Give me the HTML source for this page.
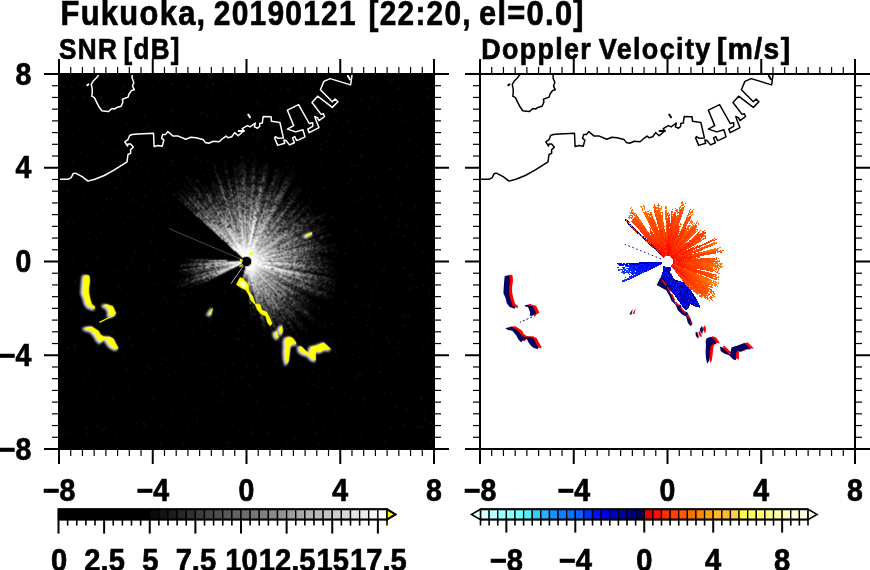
<!DOCTYPE html><html><head><meta charset="utf-8"><style>html,body{margin:0;padding:0;background:#fff;width:870px;height:570px;overflow:hidden;position:relative}svg{display:block}text{font-family:"Liberation Sans",sans-serif;font-weight:bold;stroke:#000;stroke-width:0.7px}</style></head><body>
<svg width="870" height="570" viewBox="0 0 870 570" style="position:absolute;left:0;top:0">
<rect x="59" y="74" width="375" height="375" fill="#000"/>
<defs><radialGradient id="a25" gradientUnits="userSpaceOnUse" cx="246.5" cy="261.5" r="25"><stop offset="0" stop-color="#fff" stop-opacity="1"/><stop offset="0.1" stop-color="#fff" stop-opacity="0.85"/><stop offset="0.3" stop-color="#fff" stop-opacity="0.5"/><stop offset="0.5" stop-color="#fff" stop-opacity="0.2"/><stop offset="0.7" stop-color="#fff" stop-opacity="0.05"/><stop offset="1" stop-color="#fff" stop-opacity="0"/></radialGradient><radialGradient id="b25" gradientUnits="userSpaceOnUse" cx="246.5" cy="261.5" r="25"><stop offset="0" stop-color="#fff" stop-opacity="1"/><stop offset="0.15" stop-color="#fff" stop-opacity="0.85"/><stop offset="0.4" stop-color="#fff" stop-opacity="0.55"/><stop offset="0.65" stop-color="#fff" stop-opacity="0.3"/><stop offset="0.85" stop-color="#fff" stop-opacity="0.12"/><stop offset="1" stop-color="#fff" stop-opacity="0"/></radialGradient><radialGradient id="a30" gradientUnits="userSpaceOnUse" cx="246.5" cy="261.5" r="30"><stop offset="0" stop-color="#fff" stop-opacity="1"/><stop offset="0.1" stop-color="#fff" stop-opacity="0.85"/><stop offset="0.3" stop-color="#fff" stop-opacity="0.5"/><stop offset="0.5" stop-color="#fff" stop-opacity="0.2"/><stop offset="0.7" stop-color="#fff" stop-opacity="0.05"/><stop offset="1" stop-color="#fff" stop-opacity="0"/></radialGradient><radialGradient id="b30" gradientUnits="userSpaceOnUse" cx="246.5" cy="261.5" r="30"><stop offset="0" stop-color="#fff" stop-opacity="1"/><stop offset="0.15" stop-color="#fff" stop-opacity="0.85"/><stop offset="0.4" stop-color="#fff" stop-opacity="0.55"/><stop offset="0.65" stop-color="#fff" stop-opacity="0.3"/><stop offset="0.85" stop-color="#fff" stop-opacity="0.12"/><stop offset="1" stop-color="#fff" stop-opacity="0"/></radialGradient><radialGradient id="a35" gradientUnits="userSpaceOnUse" cx="246.5" cy="261.5" r="35"><stop offset="0" stop-color="#fff" stop-opacity="1"/><stop offset="0.1" stop-color="#fff" stop-opacity="0.85"/><stop offset="0.3" stop-color="#fff" stop-opacity="0.5"/><stop offset="0.5" stop-color="#fff" stop-opacity="0.2"/><stop offset="0.7" stop-color="#fff" stop-opacity="0.05"/><stop offset="1" stop-color="#fff" stop-opacity="0"/></radialGradient><radialGradient id="b35" gradientUnits="userSpaceOnUse" cx="246.5" cy="261.5" r="35"><stop offset="0" stop-color="#fff" stop-opacity="1"/><stop offset="0.15" stop-color="#fff" stop-opacity="0.85"/><stop offset="0.4" stop-color="#fff" stop-opacity="0.55"/><stop offset="0.65" stop-color="#fff" stop-opacity="0.3"/><stop offset="0.85" stop-color="#fff" stop-opacity="0.12"/><stop offset="1" stop-color="#fff" stop-opacity="0"/></radialGradient><radialGradient id="a40" gradientUnits="userSpaceOnUse" cx="246.5" cy="261.5" r="40"><stop offset="0" stop-color="#fff" stop-opacity="1"/><stop offset="0.1" stop-color="#fff" stop-opacity="0.85"/><stop offset="0.3" stop-color="#fff" stop-opacity="0.5"/><stop offset="0.5" stop-color="#fff" stop-opacity="0.2"/><stop offset="0.7" stop-color="#fff" stop-opacity="0.05"/><stop offset="1" stop-color="#fff" stop-opacity="0"/></radialGradient><radialGradient id="b40" gradientUnits="userSpaceOnUse" cx="246.5" cy="261.5" r="40"><stop offset="0" stop-color="#fff" stop-opacity="1"/><stop offset="0.15" stop-color="#fff" stop-opacity="0.85"/><stop offset="0.4" stop-color="#fff" stop-opacity="0.55"/><stop offset="0.65" stop-color="#fff" stop-opacity="0.3"/><stop offset="0.85" stop-color="#fff" stop-opacity="0.12"/><stop offset="1" stop-color="#fff" stop-opacity="0"/></radialGradient><radialGradient id="a45" gradientUnits="userSpaceOnUse" cx="246.5" cy="261.5" r="45"><stop offset="0" stop-color="#fff" stop-opacity="1"/><stop offset="0.1" stop-color="#fff" stop-opacity="0.85"/><stop offset="0.3" stop-color="#fff" stop-opacity="0.5"/><stop offset="0.5" stop-color="#fff" stop-opacity="0.2"/><stop offset="0.7" stop-color="#fff" stop-opacity="0.05"/><stop offset="1" stop-color="#fff" stop-opacity="0"/></radialGradient><radialGradient id="b45" gradientUnits="userSpaceOnUse" cx="246.5" cy="261.5" r="45"><stop offset="0" stop-color="#fff" stop-opacity="1"/><stop offset="0.15" stop-color="#fff" stop-opacity="0.85"/><stop offset="0.4" stop-color="#fff" stop-opacity="0.55"/><stop offset="0.65" stop-color="#fff" stop-opacity="0.3"/><stop offset="0.85" stop-color="#fff" stop-opacity="0.12"/><stop offset="1" stop-color="#fff" stop-opacity="0"/></radialGradient><radialGradient id="a50" gradientUnits="userSpaceOnUse" cx="246.5" cy="261.5" r="50"><stop offset="0" stop-color="#fff" stop-opacity="1"/><stop offset="0.1" stop-color="#fff" stop-opacity="0.85"/><stop offset="0.3" stop-color="#fff" stop-opacity="0.5"/><stop offset="0.5" stop-color="#fff" stop-opacity="0.2"/><stop offset="0.7" stop-color="#fff" stop-opacity="0.05"/><stop offset="1" stop-color="#fff" stop-opacity="0"/></radialGradient><radialGradient id="b50" gradientUnits="userSpaceOnUse" cx="246.5" cy="261.5" r="50"><stop offset="0" stop-color="#fff" stop-opacity="1"/><stop offset="0.15" stop-color="#fff" stop-opacity="0.85"/><stop offset="0.4" stop-color="#fff" stop-opacity="0.55"/><stop offset="0.65" stop-color="#fff" stop-opacity="0.3"/><stop offset="0.85" stop-color="#fff" stop-opacity="0.12"/><stop offset="1" stop-color="#fff" stop-opacity="0"/></radialGradient><radialGradient id="a55" gradientUnits="userSpaceOnUse" cx="246.5" cy="261.5" r="55"><stop offset="0" stop-color="#fff" stop-opacity="1"/><stop offset="0.1" stop-color="#fff" stop-opacity="0.85"/><stop offset="0.3" stop-color="#fff" stop-opacity="0.5"/><stop offset="0.5" stop-color="#fff" stop-opacity="0.2"/><stop offset="0.7" stop-color="#fff" stop-opacity="0.05"/><stop offset="1" stop-color="#fff" stop-opacity="0"/></radialGradient><radialGradient id="b55" gradientUnits="userSpaceOnUse" cx="246.5" cy="261.5" r="55"><stop offset="0" stop-color="#fff" stop-opacity="1"/><stop offset="0.15" stop-color="#fff" stop-opacity="0.85"/><stop offset="0.4" stop-color="#fff" stop-opacity="0.55"/><stop offset="0.65" stop-color="#fff" stop-opacity="0.3"/><stop offset="0.85" stop-color="#fff" stop-opacity="0.12"/><stop offset="1" stop-color="#fff" stop-opacity="0"/></radialGradient><radialGradient id="a60" gradientUnits="userSpaceOnUse" cx="246.5" cy="261.5" r="60"><stop offset="0" stop-color="#fff" stop-opacity="1"/><stop offset="0.1" stop-color="#fff" stop-opacity="0.85"/><stop offset="0.3" stop-color="#fff" stop-opacity="0.5"/><stop offset="0.5" stop-color="#fff" stop-opacity="0.2"/><stop offset="0.7" stop-color="#fff" stop-opacity="0.05"/><stop offset="1" stop-color="#fff" stop-opacity="0"/></radialGradient><radialGradient id="b60" gradientUnits="userSpaceOnUse" cx="246.5" cy="261.5" r="60"><stop offset="0" stop-color="#fff" stop-opacity="1"/><stop offset="0.15" stop-color="#fff" stop-opacity="0.85"/><stop offset="0.4" stop-color="#fff" stop-opacity="0.55"/><stop offset="0.65" stop-color="#fff" stop-opacity="0.3"/><stop offset="0.85" stop-color="#fff" stop-opacity="0.12"/><stop offset="1" stop-color="#fff" stop-opacity="0"/></radialGradient><radialGradient id="a65" gradientUnits="userSpaceOnUse" cx="246.5" cy="261.5" r="65"><stop offset="0" stop-color="#fff" stop-opacity="1"/><stop offset="0.1" stop-color="#fff" stop-opacity="0.85"/><stop offset="0.3" stop-color="#fff" stop-opacity="0.5"/><stop offset="0.5" stop-color="#fff" stop-opacity="0.2"/><stop offset="0.7" stop-color="#fff" stop-opacity="0.05"/><stop offset="1" stop-color="#fff" stop-opacity="0"/></radialGradient><radialGradient id="b65" gradientUnits="userSpaceOnUse" cx="246.5" cy="261.5" r="65"><stop offset="0" stop-color="#fff" stop-opacity="1"/><stop offset="0.15" stop-color="#fff" stop-opacity="0.85"/><stop offset="0.4" stop-color="#fff" stop-opacity="0.55"/><stop offset="0.65" stop-color="#fff" stop-opacity="0.3"/><stop offset="0.85" stop-color="#fff" stop-opacity="0.12"/><stop offset="1" stop-color="#fff" stop-opacity="0"/></radialGradient><radialGradient id="a70" gradientUnits="userSpaceOnUse" cx="246.5" cy="261.5" r="70"><stop offset="0" stop-color="#fff" stop-opacity="1"/><stop offset="0.1" stop-color="#fff" stop-opacity="0.85"/><stop offset="0.3" stop-color="#fff" stop-opacity="0.5"/><stop offset="0.5" stop-color="#fff" stop-opacity="0.2"/><stop offset="0.7" stop-color="#fff" stop-opacity="0.05"/><stop offset="1" stop-color="#fff" stop-opacity="0"/></radialGradient><radialGradient id="b70" gradientUnits="userSpaceOnUse" cx="246.5" cy="261.5" r="70"><stop offset="0" stop-color="#fff" stop-opacity="1"/><stop offset="0.15" stop-color="#fff" stop-opacity="0.85"/><stop offset="0.4" stop-color="#fff" stop-opacity="0.55"/><stop offset="0.65" stop-color="#fff" stop-opacity="0.3"/><stop offset="0.85" stop-color="#fff" stop-opacity="0.12"/><stop offset="1" stop-color="#fff" stop-opacity="0"/></radialGradient><radialGradient id="a75" gradientUnits="userSpaceOnUse" cx="246.5" cy="261.5" r="75"><stop offset="0" stop-color="#fff" stop-opacity="1"/><stop offset="0.1" stop-color="#fff" stop-opacity="0.85"/><stop offset="0.3" stop-color="#fff" stop-opacity="0.5"/><stop offset="0.5" stop-color="#fff" stop-opacity="0.2"/><stop offset="0.7" stop-color="#fff" stop-opacity="0.05"/><stop offset="1" stop-color="#fff" stop-opacity="0"/></radialGradient><radialGradient id="b75" gradientUnits="userSpaceOnUse" cx="246.5" cy="261.5" r="75"><stop offset="0" stop-color="#fff" stop-opacity="1"/><stop offset="0.15" stop-color="#fff" stop-opacity="0.85"/><stop offset="0.4" stop-color="#fff" stop-opacity="0.55"/><stop offset="0.65" stop-color="#fff" stop-opacity="0.3"/><stop offset="0.85" stop-color="#fff" stop-opacity="0.12"/><stop offset="1" stop-color="#fff" stop-opacity="0"/></radialGradient><radialGradient id="a80" gradientUnits="userSpaceOnUse" cx="246.5" cy="261.5" r="80"><stop offset="0" stop-color="#fff" stop-opacity="1"/><stop offset="0.1" stop-color="#fff" stop-opacity="0.85"/><stop offset="0.3" stop-color="#fff" stop-opacity="0.5"/><stop offset="0.5" stop-color="#fff" stop-opacity="0.2"/><stop offset="0.7" stop-color="#fff" stop-opacity="0.05"/><stop offset="1" stop-color="#fff" stop-opacity="0"/></radialGradient><radialGradient id="b80" gradientUnits="userSpaceOnUse" cx="246.5" cy="261.5" r="80"><stop offset="0" stop-color="#fff" stop-opacity="1"/><stop offset="0.15" stop-color="#fff" stop-opacity="0.85"/><stop offset="0.4" stop-color="#fff" stop-opacity="0.55"/><stop offset="0.65" stop-color="#fff" stop-opacity="0.3"/><stop offset="0.85" stop-color="#fff" stop-opacity="0.12"/><stop offset="1" stop-color="#fff" stop-opacity="0"/></radialGradient><radialGradient id="a85" gradientUnits="userSpaceOnUse" cx="246.5" cy="261.5" r="85"><stop offset="0" stop-color="#fff" stop-opacity="1"/><stop offset="0.1" stop-color="#fff" stop-opacity="0.85"/><stop offset="0.3" stop-color="#fff" stop-opacity="0.5"/><stop offset="0.5" stop-color="#fff" stop-opacity="0.2"/><stop offset="0.7" stop-color="#fff" stop-opacity="0.05"/><stop offset="1" stop-color="#fff" stop-opacity="0"/></radialGradient><radialGradient id="b85" gradientUnits="userSpaceOnUse" cx="246.5" cy="261.5" r="85"><stop offset="0" stop-color="#fff" stop-opacity="1"/><stop offset="0.15" stop-color="#fff" stop-opacity="0.85"/><stop offset="0.4" stop-color="#fff" stop-opacity="0.55"/><stop offset="0.65" stop-color="#fff" stop-opacity="0.3"/><stop offset="0.85" stop-color="#fff" stop-opacity="0.12"/><stop offset="1" stop-color="#fff" stop-opacity="0"/></radialGradient><radialGradient id="a90" gradientUnits="userSpaceOnUse" cx="246.5" cy="261.5" r="90"><stop offset="0" stop-color="#fff" stop-opacity="1"/><stop offset="0.1" stop-color="#fff" stop-opacity="0.85"/><stop offset="0.3" stop-color="#fff" stop-opacity="0.5"/><stop offset="0.5" stop-color="#fff" stop-opacity="0.2"/><stop offset="0.7" stop-color="#fff" stop-opacity="0.05"/><stop offset="1" stop-color="#fff" stop-opacity="0"/></radialGradient><radialGradient id="b90" gradientUnits="userSpaceOnUse" cx="246.5" cy="261.5" r="90"><stop offset="0" stop-color="#fff" stop-opacity="1"/><stop offset="0.15" stop-color="#fff" stop-opacity="0.85"/><stop offset="0.4" stop-color="#fff" stop-opacity="0.55"/><stop offset="0.65" stop-color="#fff" stop-opacity="0.3"/><stop offset="0.85" stop-color="#fff" stop-opacity="0.12"/><stop offset="1" stop-color="#fff" stop-opacity="0"/></radialGradient><radialGradient id="a95" gradientUnits="userSpaceOnUse" cx="246.5" cy="261.5" r="95"><stop offset="0" stop-color="#fff" stop-opacity="1"/><stop offset="0.1" stop-color="#fff" stop-opacity="0.85"/><stop offset="0.3" stop-color="#fff" stop-opacity="0.5"/><stop offset="0.5" stop-color="#fff" stop-opacity="0.2"/><stop offset="0.7" stop-color="#fff" stop-opacity="0.05"/><stop offset="1" stop-color="#fff" stop-opacity="0"/></radialGradient><radialGradient id="b95" gradientUnits="userSpaceOnUse" cx="246.5" cy="261.5" r="95"><stop offset="0" stop-color="#fff" stop-opacity="1"/><stop offset="0.15" stop-color="#fff" stop-opacity="0.85"/><stop offset="0.4" stop-color="#fff" stop-opacity="0.55"/><stop offset="0.65" stop-color="#fff" stop-opacity="0.3"/><stop offset="0.85" stop-color="#fff" stop-opacity="0.12"/><stop offset="1" stop-color="#fff" stop-opacity="0"/></radialGradient><radialGradient id="a100" gradientUnits="userSpaceOnUse" cx="246.5" cy="261.5" r="100"><stop offset="0" stop-color="#fff" stop-opacity="1"/><stop offset="0.1" stop-color="#fff" stop-opacity="0.85"/><stop offset="0.3" stop-color="#fff" stop-opacity="0.5"/><stop offset="0.5" stop-color="#fff" stop-opacity="0.2"/><stop offset="0.7" stop-color="#fff" stop-opacity="0.05"/><stop offset="1" stop-color="#fff" stop-opacity="0"/></radialGradient><radialGradient id="b100" gradientUnits="userSpaceOnUse" cx="246.5" cy="261.5" r="100"><stop offset="0" stop-color="#fff" stop-opacity="1"/><stop offset="0.15" stop-color="#fff" stop-opacity="0.85"/><stop offset="0.4" stop-color="#fff" stop-opacity="0.55"/><stop offset="0.65" stop-color="#fff" stop-opacity="0.3"/><stop offset="0.85" stop-color="#fff" stop-opacity="0.12"/><stop offset="1" stop-color="#fff" stop-opacity="0"/></radialGradient><radialGradient id="a105" gradientUnits="userSpaceOnUse" cx="246.5" cy="261.5" r="105"><stop offset="0" stop-color="#fff" stop-opacity="1"/><stop offset="0.1" stop-color="#fff" stop-opacity="0.85"/><stop offset="0.3" stop-color="#fff" stop-opacity="0.5"/><stop offset="0.5" stop-color="#fff" stop-opacity="0.2"/><stop offset="0.7" stop-color="#fff" stop-opacity="0.05"/><stop offset="1" stop-color="#fff" stop-opacity="0"/></radialGradient><radialGradient id="b105" gradientUnits="userSpaceOnUse" cx="246.5" cy="261.5" r="105"><stop offset="0" stop-color="#fff" stop-opacity="1"/><stop offset="0.15" stop-color="#fff" stop-opacity="0.85"/><stop offset="0.4" stop-color="#fff" stop-opacity="0.55"/><stop offset="0.65" stop-color="#fff" stop-opacity="0.3"/><stop offset="0.85" stop-color="#fff" stop-opacity="0.12"/><stop offset="1" stop-color="#fff" stop-opacity="0"/></radialGradient><radialGradient id="a110" gradientUnits="userSpaceOnUse" cx="246.5" cy="261.5" r="110"><stop offset="0" stop-color="#fff" stop-opacity="1"/><stop offset="0.1" stop-color="#fff" stop-opacity="0.85"/><stop offset="0.3" stop-color="#fff" stop-opacity="0.5"/><stop offset="0.5" stop-color="#fff" stop-opacity="0.2"/><stop offset="0.7" stop-color="#fff" stop-opacity="0.05"/><stop offset="1" stop-color="#fff" stop-opacity="0"/></radialGradient><radialGradient id="b110" gradientUnits="userSpaceOnUse" cx="246.5" cy="261.5" r="110"><stop offset="0" stop-color="#fff" stop-opacity="1"/><stop offset="0.15" stop-color="#fff" stop-opacity="0.85"/><stop offset="0.4" stop-color="#fff" stop-opacity="0.55"/><stop offset="0.65" stop-color="#fff" stop-opacity="0.3"/><stop offset="0.85" stop-color="#fff" stop-opacity="0.12"/><stop offset="1" stop-color="#fff" stop-opacity="0"/></radialGradient><radialGradient id="a115" gradientUnits="userSpaceOnUse" cx="246.5" cy="261.5" r="115"><stop offset="0" stop-color="#fff" stop-opacity="1"/><stop offset="0.1" stop-color="#fff" stop-opacity="0.85"/><stop offset="0.3" stop-color="#fff" stop-opacity="0.5"/><stop offset="0.5" stop-color="#fff" stop-opacity="0.2"/><stop offset="0.7" stop-color="#fff" stop-opacity="0.05"/><stop offset="1" stop-color="#fff" stop-opacity="0"/></radialGradient><radialGradient id="b115" gradientUnits="userSpaceOnUse" cx="246.5" cy="261.5" r="115"><stop offset="0" stop-color="#fff" stop-opacity="1"/><stop offset="0.15" stop-color="#fff" stop-opacity="0.85"/><stop offset="0.4" stop-color="#fff" stop-opacity="0.55"/><stop offset="0.65" stop-color="#fff" stop-opacity="0.3"/><stop offset="0.85" stop-color="#fff" stop-opacity="0.12"/><stop offset="1" stop-color="#fff" stop-opacity="0"/></radialGradient><radialGradient id="a120" gradientUnits="userSpaceOnUse" cx="246.5" cy="261.5" r="120"><stop offset="0" stop-color="#fff" stop-opacity="1"/><stop offset="0.1" stop-color="#fff" stop-opacity="0.85"/><stop offset="0.3" stop-color="#fff" stop-opacity="0.5"/><stop offset="0.5" stop-color="#fff" stop-opacity="0.2"/><stop offset="0.7" stop-color="#fff" stop-opacity="0.05"/><stop offset="1" stop-color="#fff" stop-opacity="0"/></radialGradient><radialGradient id="b120" gradientUnits="userSpaceOnUse" cx="246.5" cy="261.5" r="120"><stop offset="0" stop-color="#fff" stop-opacity="1"/><stop offset="0.15" stop-color="#fff" stop-opacity="0.85"/><stop offset="0.4" stop-color="#fff" stop-opacity="0.55"/><stop offset="0.65" stop-color="#fff" stop-opacity="0.3"/><stop offset="0.85" stop-color="#fff" stop-opacity="0.12"/><stop offset="1" stop-color="#fff" stop-opacity="0"/></radialGradient><radialGradient id="a125" gradientUnits="userSpaceOnUse" cx="246.5" cy="261.5" r="125"><stop offset="0" stop-color="#fff" stop-opacity="1"/><stop offset="0.1" stop-color="#fff" stop-opacity="0.85"/><stop offset="0.3" stop-color="#fff" stop-opacity="0.5"/><stop offset="0.5" stop-color="#fff" stop-opacity="0.2"/><stop offset="0.7" stop-color="#fff" stop-opacity="0.05"/><stop offset="1" stop-color="#fff" stop-opacity="0"/></radialGradient><radialGradient id="b125" gradientUnits="userSpaceOnUse" cx="246.5" cy="261.5" r="125"><stop offset="0" stop-color="#fff" stop-opacity="1"/><stop offset="0.15" stop-color="#fff" stop-opacity="0.85"/><stop offset="0.4" stop-color="#fff" stop-opacity="0.55"/><stop offset="0.65" stop-color="#fff" stop-opacity="0.3"/><stop offset="0.85" stop-color="#fff" stop-opacity="0.12"/><stop offset="1" stop-color="#fff" stop-opacity="0"/></radialGradient><radialGradient id="a130" gradientUnits="userSpaceOnUse" cx="246.5" cy="261.5" r="130"><stop offset="0" stop-color="#fff" stop-opacity="1"/><stop offset="0.1" stop-color="#fff" stop-opacity="0.85"/><stop offset="0.3" stop-color="#fff" stop-opacity="0.5"/><stop offset="0.5" stop-color="#fff" stop-opacity="0.2"/><stop offset="0.7" stop-color="#fff" stop-opacity="0.05"/><stop offset="1" stop-color="#fff" stop-opacity="0"/></radialGradient><radialGradient id="b130" gradientUnits="userSpaceOnUse" cx="246.5" cy="261.5" r="130"><stop offset="0" stop-color="#fff" stop-opacity="1"/><stop offset="0.15" stop-color="#fff" stop-opacity="0.85"/><stop offset="0.4" stop-color="#fff" stop-opacity="0.55"/><stop offset="0.65" stop-color="#fff" stop-opacity="0.3"/><stop offset="0.85" stop-color="#fff" stop-opacity="0.12"/><stop offset="1" stop-color="#fff" stop-opacity="0"/></radialGradient><radialGradient id="a135" gradientUnits="userSpaceOnUse" cx="246.5" cy="261.5" r="135"><stop offset="0" stop-color="#fff" stop-opacity="1"/><stop offset="0.1" stop-color="#fff" stop-opacity="0.85"/><stop offset="0.3" stop-color="#fff" stop-opacity="0.5"/><stop offset="0.5" stop-color="#fff" stop-opacity="0.2"/><stop offset="0.7" stop-color="#fff" stop-opacity="0.05"/><stop offset="1" stop-color="#fff" stop-opacity="0"/></radialGradient><radialGradient id="b135" gradientUnits="userSpaceOnUse" cx="246.5" cy="261.5" r="135"><stop offset="0" stop-color="#fff" stop-opacity="1"/><stop offset="0.15" stop-color="#fff" stop-opacity="0.85"/><stop offset="0.4" stop-color="#fff" stop-opacity="0.55"/><stop offset="0.65" stop-color="#fff" stop-opacity="0.3"/><stop offset="0.85" stop-color="#fff" stop-opacity="0.12"/><stop offset="1" stop-color="#fff" stop-opacity="0"/></radialGradient><radialGradient id="a140" gradientUnits="userSpaceOnUse" cx="246.5" cy="261.5" r="140"><stop offset="0" stop-color="#fff" stop-opacity="1"/><stop offset="0.1" stop-color="#fff" stop-opacity="0.85"/><stop offset="0.3" stop-color="#fff" stop-opacity="0.5"/><stop offset="0.5" stop-color="#fff" stop-opacity="0.2"/><stop offset="0.7" stop-color="#fff" stop-opacity="0.05"/><stop offset="1" stop-color="#fff" stop-opacity="0"/></radialGradient><radialGradient id="b140" gradientUnits="userSpaceOnUse" cx="246.5" cy="261.5" r="140"><stop offset="0" stop-color="#fff" stop-opacity="1"/><stop offset="0.15" stop-color="#fff" stop-opacity="0.85"/><stop offset="0.4" stop-color="#fff" stop-opacity="0.55"/><stop offset="0.65" stop-color="#fff" stop-opacity="0.3"/><stop offset="0.85" stop-color="#fff" stop-opacity="0.12"/><stop offset="1" stop-color="#fff" stop-opacity="0"/></radialGradient><radialGradient id="haze" gradientUnits="userSpaceOnUse" cx="246.5" cy="261.5" r="115"><stop offset="0" stop-color="#fff" stop-opacity="0.18"/><stop offset="0.5" stop-color="#fff" stop-opacity="0.1"/><stop offset="1" stop-color="#fff" stop-opacity="0"/></radialGradient><filter id="grain" x="59" y="74" width="375" height="375" filterUnits="userSpaceOnUse" color-interpolation-filters="sRGB"><feTurbulence type="fractalNoise" baseFrequency="0.28" numOctaves="2" seed="5" result="n"/><feColorMatrix in="n" type="matrix" values="0 0 0 0 1  0 0 0 0 1  0 0 0 0 1  1.8 0 0 0 -0.1" result="m"/><feComposite in="SourceGraphic" in2="m" operator="in"/></filter></defs><g filter="url(#grain)"><path d="M246.5 261.5L285.8 369.6L293.3 366.6L300.5 363.0L307.4 359.0L314.1 354.5L320.4 349.6L326.4 344.2L332.0 338.5L337.1 332.3L341.8 325.8L346.1 319.0L349.9 311.9L353.1 304.6L355.9 297.0L358.1 289.3L359.8 281.5L360.9 273.5L361.4 265.5L361.4 257.5L360.9 249.5L359.8 241.5L358.1 233.7L355.9 226.0L353.1 218.4L349.9 211.1L346.1 204.0L341.8 197.2L337.1 190.7L332.0 184.5L326.4 178.8L320.4 173.4L314.1 168.5L307.4 164.0L300.5 160.0L293.3 156.4L285.8 153.4L278.2 151.0L270.4 149.0L262.5 147.6L254.5 146.8L246.5 146.5L238.5 146.8L230.5 147.6L222.6 149.0L214.8 151.0L207.2 153.4L199.7 156.4L192.5 160.0L185.6 164.0L178.9 168.5L172.6 173.4L166.6 178.8Z" fill="url(#haze)"/><path d="M246.5 261.5L181.5 261.5L181.5 262.6Z" fill="url(#b65)" fill-opacity="0.51"/><path d="M246.5 261.5L181.5 262.6L181.5 263.8Z" fill="url(#b65)" fill-opacity="0.91"/><path d="M246.5 261.5L191.5 263.4L191.6 264.4Z" fill="url(#b55)" fill-opacity="0.48"/><path d="M246.5 261.5L186.6 264.6L186.6 265.7Z" fill="url(#b60)" fill-opacity="0.76"/><path d="M246.5 261.5L191.6 265.3L191.7 266.3Z" fill="url(#b55)" fill-opacity="0.55"/><path d="M246.5 261.5L191.7 266.3L191.8 267.2Z" fill="url(#b55)" fill-opacity="0.79"/><path d="M246.5 261.5L176.9 268.8L177.0 270.0Z" fill="url(#b70)" fill-opacity="0.94"/><path d="M246.5 261.5L182.0 269.4L182.1 270.5Z" fill="url(#b65)" fill-opacity="0.54"/><path d="M246.5 261.5L197.0 268.5L197.1 269.3Z" fill="url(#b50)" fill-opacity="0.48"/><path d="M246.5 261.5L192.2 270.1L192.3 271.1Z" fill="url(#b55)" fill-opacity="0.87"/><path d="M246.5 261.5L182.5 272.8L182.7 273.9Z" fill="url(#b65)" fill-opacity="0.82"/><path d="M246.5 261.5L192.5 272.0L192.7 272.9Z" fill="url(#b55)" fill-opacity="0.83"/><path d="M246.5 261.5L192.7 272.9L192.9 273.9Z" fill="url(#b55)" fill-opacity="0.71"/><path d="M246.5 261.5L192.9 273.9L193.1 274.8Z" fill="url(#b55)" fill-opacity="0.52"/><path d="M246.5 261.5L183.4 277.2L183.7 278.3Z" fill="url(#b65)" fill-opacity="0.51"/><path d="M246.5 261.5L193.4 275.7L193.6 276.7Z" fill="url(#b55)" fill-opacity="0.78"/><path d="M246.5 261.5L198.4 275.3L198.7 276.1Z" fill="url(#b50)" fill-opacity="0.64"/><path d="M246.5 261.5L193.9 277.6L194.2 278.5Z" fill="url(#b55)" fill-opacity="0.46"/><path d="M246.5 261.5L184.7 281.6L185.0 282.7Z" fill="url(#b65)" fill-opacity="0.78"/><path d="M246.5 261.5L180.3 284.3L180.7 285.4Z" fill="url(#b70)" fill-opacity="0.77"/><path d="M246.5 261.5L190.1 282.0L190.5 283.0Z" fill="url(#b60)" fill-opacity="0.73"/><path d="M246.5 261.5L195.2 281.2L195.5 282.1Z" fill="url(#b55)" fill-opacity="0.74"/><path d="M246.5 261.5L195.5 282.1L195.9 283.0Z" fill="url(#b55)" fill-opacity="0.99"/><path d="M246.5 261.5L195.9 283.0L196.3 283.9Z" fill="url(#b55)" fill-opacity="0.77"/><path d="M246.5 261.5L182.6 290.0L183.1 291.1Z" fill="url(#b70)" fill-opacity="0.62"/><path d="M246.5 261.5L187.6 289.0L188.1 290.0Z" fill="url(#b65)" fill-opacity="0.93"/><path d="M246.5 261.5L183.6 292.2L184.1 293.3Z" fill="url(#b70)" fill-opacity="0.95"/><path d="M246.5 261.5L239.2 290.6L239.8 290.7Z" fill="url(#b30)" fill-opacity="0.71"/><path d="M246.5 261.5L239.8 290.7L240.3 290.8Z" fill="url(#b30)" fill-opacity="0.98"/><path d="M246.5 261.5L240.3 290.8L240.8 290.9Z" fill="url(#b30)" fill-opacity="0.50"/><path d="M246.5 261.5L241.7 286.0L242.2 286.1Z" fill="url(#b25)" fill-opacity="0.50"/><path d="M246.5 261.5L241.3 291.0L241.8 291.1Z" fill="url(#b30)" fill-opacity="0.68"/><path d="M246.5 261.5L241.8 291.1L242.3 291.2Z" fill="url(#b30)" fill-opacity="0.69"/><path d="M246.5 261.5L243.0 286.3L243.5 286.3Z" fill="url(#b25)" fill-opacity="0.64"/><path d="M246.5 261.5L242.2 296.2L242.8 296.3Z" fill="url(#b35)" fill-opacity="0.84"/><path d="M246.5 261.5L243.9 286.4L244.3 286.4Z" fill="url(#b25)" fill-opacity="0.79"/><path d="M246.5 261.5L243.9 291.4L244.4 291.4Z" fill="url(#b30)" fill-opacity="0.94"/><path d="M246.5 261.5L244.4 291.4L244.9 291.5Z" fill="url(#b30)" fill-opacity="0.94"/><path d="M246.5 261.5L244.9 291.5L245.5 291.5Z" fill="url(#b30)" fill-opacity="0.80"/><path d="M246.5 261.5L245.5 291.5L246.0 291.5Z" fill="url(#b30)" fill-opacity="0.81"/><path d="M246.5 261.5L246.0 291.5L246.5 291.5Z" fill="url(#b30)" fill-opacity="0.47"/><path d="M246.5 261.5L246.5 291.5L247.0 291.5Z" fill="url(#b30)" fill-opacity="0.72"/><path d="M246.5 261.5L247.0 291.5L247.5 291.5Z" fill="url(#b30)" fill-opacity="0.90"/><path d="M246.5 261.5L247.5 291.5L248.1 291.5Z" fill="url(#b30)" fill-opacity="0.52"/><path d="M246.5 261.5L247.8 286.5L248.2 286.4Z" fill="url(#b25)" fill-opacity="0.45"/><path d="M246.5 261.5L250.0 311.4L250.9 311.3Z" fill="url(#b50)" fill-opacity="0.71"/><path d="M246.5 261.5L251.3 316.3L252.2 316.2Z" fill="url(#b55)" fill-opacity="0.66"/><path d="M246.5 261.5L252.2 316.2L253.2 316.1Z" fill="url(#b55)" fill-opacity="0.87"/><path d="M246.5 261.5L253.2 316.1L254.2 316.0Z" fill="url(#b55)" fill-opacity="0.54"/><path d="M246.5 261.5L254.2 316.0L255.1 315.8Z" fill="url(#b55)" fill-opacity="0.61"/><path d="M246.5 261.5L256.7 325.7L257.8 325.5Z" fill="url(#b65)" fill-opacity="0.62"/><path d="M246.5 261.5L256.9 320.6L257.9 320.4Z" fill="url(#b60)" fill-opacity="0.48"/><path d="M246.5 261.5L256.0 310.6L256.9 310.4Z" fill="url(#b50)" fill-opacity="0.53"/><path d="M246.5 261.5L259.0 320.2L260.0 320.0Z" fill="url(#b60)" fill-opacity="0.75"/><path d="M246.5 261.5L257.7 310.2L258.6 310.0Z" fill="url(#b50)" fill-opacity="0.62"/><path d="M246.5 261.5L261.0 319.7L262.0 319.5Z" fill="url(#b60)" fill-opacity="0.73"/><path d="M246.5 261.5L267.2 338.8L268.6 338.4Z" fill="url(#b80)" fill-opacity="0.85"/><path d="M246.5 261.5L261.7 314.4L262.6 314.1Z" fill="url(#b55)" fill-opacity="0.55"/><path d="M246.5 261.5L267.0 328.4L268.1 328.1Z" fill="url(#b70)" fill-opacity="0.78"/><path d="M246.5 261.5L263.5 313.8L264.4 313.5Z" fill="url(#b55)" fill-opacity="0.63"/><path d="M246.5 261.5L266.0 318.2L267.0 317.9Z" fill="url(#b60)" fill-opacity="0.45"/><path d="M246.5 261.5L268.7 322.6L269.8 322.2Z" fill="url(#b65)" fill-opacity="0.44"/><path d="M246.5 261.5L273.4 331.5L274.6 331.0Z" fill="url(#b75)" fill-opacity="0.75"/><path d="M246.5 261.5L280.2 344.9L281.7 344.3Z" fill="url(#b90)" fill-opacity="0.67"/><path d="M246.5 261.5L275.8 330.5L277.0 330.0Z" fill="url(#b75)" fill-opacity="0.74"/><path d="M246.5 261.5L275.0 325.4L276.1 324.9Z" fill="url(#b70)" fill-opacity="0.72"/><path d="M246.5 261.5L286.6 347.6L288.1 346.9Z" fill="url(#b95)" fill-opacity="0.52"/><path d="M246.5 261.5L286.0 342.4L287.4 341.7Z" fill="url(#b90)" fill-opacity="0.86"/><path d="M246.5 261.5L287.4 341.7L288.8 341.0Z" fill="url(#b90)" fill-opacity="0.78"/><path d="M246.5 261.5L281.7 327.7L282.9 327.1Z" fill="url(#b75)" fill-opacity="0.71"/><path d="M246.5 261.5L295.0 349.0L296.5 348.1Z" fill="url(#b100)" fill-opacity="0.62"/><path d="M246.5 261.5L294.0 343.8L295.4 342.9Z" fill="url(#b95)" fill-opacity="0.94"/><path d="M246.5 261.5L285.1 325.8L286.2 325.1Z" fill="url(#b75)" fill-opacity="0.80"/><path d="M246.5 261.5L291.5 333.6L292.8 332.8Z" fill="url(#b85)" fill-opacity="0.41"/><path d="M246.5 261.5L287.3 324.4L288.4 323.7Z" fill="url(#b75)" fill-opacity="0.55"/><path d="M246.5 261.5L296.8 336.1L298.1 335.2Z" fill="url(#b90)" fill-opacity="0.58"/><path d="M246.5 261.5L286.7 318.8L287.6 318.1Z" fill="url(#b70)" fill-opacity="0.59"/><path d="M246.5 261.5L290.6 322.2L291.6 321.4Z" fill="url(#b75)" fill-opacity="0.75"/><path d="M246.5 261.5L297.7 329.4L298.8 328.5Z" fill="url(#b85)" fill-opacity="0.45"/><path d="M246.5 261.5L295.8 324.5L296.8 323.7Z" fill="url(#b80)" fill-opacity="0.91"/><path d="M246.5 261.5L300.0 327.6L301.1 326.6Z" fill="url(#b85)" fill-opacity="0.53"/><path d="M246.5 261.5L301.1 326.6L302.3 325.7Z" fill="url(#b85)" fill-opacity="0.47"/><path d="M246.5 261.5L292.4 314.3L293.3 313.5Z" fill="url(#b70)" fill-opacity="0.69"/><path d="M246.5 261.5L296.7 317.2L297.6 316.4Z" fill="url(#b75)" fill-opacity="0.83"/><path d="M246.5 261.5L311.3 331.0L312.5 329.8Z" fill="url(#b95)" fill-opacity="0.40"/><path d="M246.5 261.5L302.1 319.0L303.1 318.1Z" fill="url(#b80)" fill-opacity="0.78"/><path d="M246.5 261.5L303.1 318.1L304.0 317.1Z" fill="url(#b80)" fill-opacity="0.68"/><path d="M246.5 261.5L300.5 313.6L301.4 312.6Z" fill="url(#b75)" fill-opacity="0.65"/><path d="M246.5 261.5L301.4 312.6L302.2 311.7Z" fill="url(#b75)" fill-opacity="0.90"/><path d="M246.5 261.5L306.0 315.0L306.9 314.0Z" fill="url(#b80)" fill-opacity="0.91"/><path d="M246.5 261.5L303.1 310.7L304.0 309.7Z" fill="url(#b75)" fill-opacity="0.81"/><path d="M246.5 261.5L304.0 309.7L304.8 308.7Z" fill="url(#b75)" fill-opacity="0.61"/><path d="M246.5 261.5L304.8 308.7L305.6 307.7Z" fill="url(#b75)" fill-opacity="0.62"/><path d="M246.5 261.5L317.4 316.9L318.4 315.7Z" fill="url(#b90)" fill-opacity="0.91"/><path d="M246.5 261.5L298.4 300.6L299.1 299.7Z" fill="url(#b65)" fill-opacity="0.70"/><path d="M246.5 261.5L319.3 314.4L320.2 313.1Z" fill="url(#b90)" fill-opacity="0.67"/><path d="M246.5 261.5L299.7 298.8L300.4 297.8Z" fill="url(#b65)" fill-opacity="0.70"/><path d="M246.5 261.5L317.0 309.0L317.8 307.8Z" fill="url(#b85)" fill-opacity="0.73"/><path d="M246.5 261.5L313.6 305.1L314.3 303.9Z" fill="url(#b80)" fill-opacity="0.51"/><path d="M246.5 261.5L314.3 303.9L315.1 302.7Z" fill="url(#b80)" fill-opacity="0.75"/><path d="M246.5 261.5L315.1 302.7L315.8 301.5Z" fill="url(#b80)" fill-opacity="0.65"/><path d="M246.5 261.5L328.8 309.0L329.6 307.6Z" fill="url(#b95)" fill-opacity="0.63"/><path d="M246.5 261.5L312.1 297.9L312.7 296.7Z" fill="url(#b75)" fill-opacity="0.51"/><path d="M246.5 261.5L317.1 299.1L317.8 297.8Z" fill="url(#b80)" fill-opacity="0.71"/><path d="M246.5 261.5L313.3 295.5L313.9 294.4Z" fill="url(#b75)" fill-opacity="0.68"/><path d="M246.5 261.5L313.9 294.4L314.5 293.2Z" fill="url(#b75)" fill-opacity="0.43"/><path d="M246.5 261.5L319.0 295.3L319.6 294.0Z" fill="url(#b80)" fill-opacity="0.47"/><path d="M246.5 261.5L315.0 292.0L315.5 290.8Z" fill="url(#b75)" fill-opacity="0.41"/><path d="M246.5 261.5L310.9 288.9L311.4 287.7Z" fill="url(#b70)" fill-opacity="0.53"/><path d="M246.5 261.5L320.7 291.5L321.2 290.2Z" fill="url(#b80)" fill-opacity="0.73"/><path d="M246.5 261.5L330.5 293.8L331.1 292.3Z" fill="url(#b90)" fill-opacity="0.95"/><path d="M246.5 261.5L331.1 292.3L331.6 290.8Z" fill="url(#b90)" fill-opacity="0.50"/><path d="M246.5 261.5L331.6 290.8L332.1 289.3Z" fill="url(#b90)" fill-opacity="0.74"/><path d="M246.5 261.5L332.1 289.3L332.6 287.8Z" fill="url(#b90)" fill-opacity="0.60"/><path d="M246.5 261.5L318.2 283.4L318.6 282.2Z" fill="url(#b75)" fill-opacity="0.40"/><path d="M246.5 261.5L313.8 280.8L314.1 279.6Z" fill="url(#b70)" fill-opacity="0.44"/><path d="M246.5 261.5L328.6 283.5L329.0 282.1Z" fill="url(#b85)" fill-opacity="0.62"/><path d="M246.5 261.5L314.4 278.4L314.7 277.2Z" fill="url(#b70)" fill-opacity="0.90"/><path d="M246.5 261.5L319.6 278.4L319.9 277.1Z" fill="url(#b75)" fill-opacity="0.40"/><path d="M246.5 261.5L310.1 275.0L310.3 273.9Z" fill="url(#b65)" fill-opacity="0.77"/><path d="M246.5 261.5L325.0 276.8L325.3 275.4Z" fill="url(#b80)" fill-opacity="0.72"/><path d="M246.5 261.5L325.3 275.4L325.5 274.0Z" fill="url(#b80)" fill-opacity="0.48"/><path d="M246.5 261.5L340.3 276.4L340.6 274.7Z" fill="url(#b95)" fill-opacity="0.67"/><path d="M246.5 261.5L330.7 273.3L330.9 271.9Z" fill="url(#b85)" fill-opacity="0.68"/><path d="M246.5 261.5L311.0 269.4L311.1 268.3Z" fill="url(#b65)" fill-opacity="0.55"/><path d="M246.5 261.5L336.0 270.9L336.2 269.3Z" fill="url(#b90)" fill-opacity="0.77"/><path d="M246.5 261.5L321.2 268.0L321.3 266.7Z" fill="url(#b75)" fill-opacity="0.63"/><path d="M246.5 261.5L321.3 266.7L321.4 265.4Z" fill="url(#b75)" fill-opacity="0.76"/><path d="M246.5 261.5L336.4 266.2L336.4 264.6Z" fill="url(#b90)" fill-opacity="0.85"/><path d="M246.5 261.5L331.4 264.5L331.5 263.0Z" fill="url(#b85)" fill-opacity="0.60"/><path d="M246.5 261.5L326.5 262.9L326.5 261.5Z" fill="url(#b80)" fill-opacity="0.90"/><path d="M246.5 261.5L316.5 261.5L316.5 260.3Z" fill="url(#b70)" fill-opacity="0.62"/><path d="M246.5 261.5L336.5 259.9L336.4 258.4Z" fill="url(#b90)" fill-opacity="0.41"/><path d="M246.5 261.5L336.4 258.4L336.4 256.8Z" fill="url(#b90)" fill-opacity="0.47"/><path d="M246.5 261.5L321.4 257.6L321.3 256.3Z" fill="url(#b75)" fill-opacity="0.64"/><path d="M246.5 261.5L321.3 256.3L321.2 255.0Z" fill="url(#b75)" fill-opacity="0.61"/><path d="M246.5 261.5L331.2 254.1L331.0 252.6Z" fill="url(#b85)" fill-opacity="0.49"/><path d="M246.5 261.5L331.0 252.6L330.9 251.1Z" fill="url(#b85)" fill-opacity="0.67"/><path d="M246.5 261.5L325.9 251.8L325.7 250.4Z" fill="url(#b80)" fill-opacity="0.90"/><path d="M246.5 261.5L330.7 249.7L330.5 248.2Z" fill="url(#b85)" fill-opacity="0.97"/><path d="M246.5 261.5L340.3 246.6L340.1 245.0Z" fill="url(#b95)" fill-opacity="0.88"/><path d="M246.5 261.5L330.2 246.7L329.9 245.3Z" fill="url(#b85)" fill-opacity="0.43"/><path d="M246.5 261.5L325.0 246.2L324.8 244.9Z" fill="url(#b80)" fill-opacity="0.94"/><path d="M246.5 261.5L319.9 245.9L319.6 244.6Z" fill="url(#b75)" fill-opacity="0.69"/><path d="M246.5 261.5L324.4 243.5L324.1 242.1Z" fill="url(#b80)" fill-opacity="0.71"/><path d="M246.5 261.5L333.8 239.7L333.4 238.2Z" fill="url(#b90)" fill-opacity="0.72"/><path d="M246.5 261.5L328.6 239.5L328.2 238.1Z" fill="url(#b85)" fill-opacity="0.55"/><path d="M246.5 261.5L313.8 242.2L313.4 241.0Z" fill="url(#b70)" fill-opacity="0.81"/><path d="M246.5 261.5L337.3 233.7L336.9 232.1Z" fill="url(#b95)" fill-opacity="0.55"/><path d="M246.5 261.5L308.3 241.4L308.0 240.3Z" fill="url(#b65)" fill-opacity="0.62"/><path d="M246.5 261.5L317.4 237.1L317.0 235.8Z" fill="url(#b75)" fill-opacity="0.43"/><path d="M246.5 261.5L335.8 229.0L335.2 227.5Z" fill="url(#b95)" fill-opacity="0.52"/><path d="M246.5 261.5L321.2 232.8L320.7 231.5Z" fill="url(#b80)" fill-opacity="0.79"/><path d="M246.5 261.5L325.3 229.7L324.7 228.3Z" fill="url(#b85)" fill-opacity="0.68"/><path d="M246.5 261.5L306.3 236.1L305.9 235.1Z" fill="url(#b65)" fill-opacity="0.73"/><path d="M246.5 261.5L305.9 235.1L305.4 234.0Z" fill="url(#b65)" fill-opacity="0.67"/><path d="M246.5 261.5L305.4 234.0L304.9 233.0Z" fill="url(#b65)" fill-opacity="0.52"/><path d="M246.5 261.5L318.4 226.4L317.8 225.2Z" fill="url(#b80)" fill-opacity="0.89"/><path d="M246.5 261.5L317.8 225.2L317.1 223.9Z" fill="url(#b80)" fill-opacity="0.70"/><path d="M246.5 261.5L308.3 228.6L307.7 227.6Z" fill="url(#b70)" fill-opacity="0.60"/><path d="M246.5 261.5L316.5 222.7L315.8 221.5Z" fill="url(#b80)" fill-opacity="0.60"/><path d="M246.5 261.5L311.5 224.0L310.8 222.9Z" fill="url(#b75)" fill-opacity="0.66"/><path d="M246.5 261.5L306.5 225.4L305.9 224.4Z" fill="url(#b70)" fill-opacity="0.49"/><path d="M246.5 261.5L310.1 221.8L309.4 220.7Z" fill="url(#b75)" fill-opacity="0.46"/><path d="M246.5 261.5L313.6 217.9L312.8 216.8Z" fill="url(#b80)" fill-opacity="0.46"/><path d="M246.5 261.5L312.8 216.8L312.0 215.6Z" fill="url(#b80)" fill-opacity="0.50"/><path d="M246.5 261.5L299.7 224.2L299.1 223.3Z" fill="url(#b65)" fill-opacity="0.37"/><path d="M246.5 261.5L311.2 214.5L310.4 213.4Z" fill="url(#b80)" fill-opacity="0.65"/><path d="M246.5 261.5L310.4 213.4L309.5 212.2Z" fill="url(#b80)" fill-opacity="0.77"/><path d="M246.5 261.5L305.6 215.3L304.8 214.3Z" fill="url(#b75)" fill-opacity="0.52"/><path d="M246.5 261.5L308.7 211.2L307.8 210.1Z" fill="url(#b80)" fill-opacity="0.52"/><path d="M246.5 261.5L307.8 210.1L306.9 209.0Z" fill="url(#b80)" fill-opacity="0.85"/><path d="M246.5 261.5L299.3 215.6L298.5 214.7Z" fill="url(#b70)" fill-opacity="0.83"/><path d="M246.5 261.5L306.0 208.0L305.0 206.9Z" fill="url(#b80)" fill-opacity="0.51"/><path d="M246.5 261.5L308.7 203.5L307.6 202.5Z" fill="url(#b85)" fill-opacity="0.41"/><path d="M246.5 261.5L307.6 202.5L306.6 201.4Z" fill="url(#b85)" fill-opacity="0.62"/><path d="M246.5 261.5L303.1 204.9L302.1 204.0Z" fill="url(#b80)" fill-opacity="0.60"/><path d="M246.5 261.5L312.5 193.2L311.3 192.0Z" fill="url(#b95)" fill-opacity="0.51"/><path d="M246.5 261.5L297.6 206.6L296.7 205.8Z" fill="url(#b75)" fill-opacity="0.61"/><path d="M246.5 261.5L296.7 205.8L295.7 204.9Z" fill="url(#b75)" fill-opacity="0.79"/><path d="M246.5 261.5L305.5 193.6L304.4 192.6Z" fill="url(#b90)" fill-opacity="0.77"/><path d="M246.5 261.5L297.9 200.2L296.8 199.3Z" fill="url(#b80)" fill-opacity="0.68"/><path d="M246.5 261.5L293.7 203.2L292.7 202.4Z" fill="url(#b75)" fill-opacity="0.47"/><path d="M246.5 261.5L292.7 202.4L291.6 201.6Z" fill="url(#b75)" fill-opacity="0.79"/><path d="M246.5 261.5L288.6 205.6L287.6 204.9Z" fill="url(#b70)" fill-opacity="0.78"/><path d="M246.5 261.5L299.4 188.7L298.1 187.8Z" fill="url(#b90)" fill-opacity="0.40"/><path d="M246.5 261.5L292.4 196.0L291.2 195.2Z" fill="url(#b80)" fill-opacity="0.61"/><path d="M246.5 261.5L291.2 195.2L290.1 194.4Z" fill="url(#b80)" fill-opacity="0.46"/><path d="M246.5 261.5L295.5 186.0L294.2 185.2Z" fill="url(#b90)" fill-opacity="0.88"/><path d="M246.5 261.5L294.2 185.2L292.9 184.4Z" fill="url(#b90)" fill-opacity="0.59"/><path d="M246.5 261.5L290.3 188.6L289.0 187.9Z" fill="url(#b85)" fill-opacity="0.47"/><path d="M246.5 261.5L289.0 187.9L287.7 187.2Z" fill="url(#b85)" fill-opacity="0.95"/><path d="M246.5 261.5L297.4 169.7L295.8 168.8Z" fill="url(#b105)" fill-opacity="0.50"/><path d="M246.5 261.5L293.4 173.2L291.9 172.4Z" fill="url(#b100)" fill-opacity="0.49"/><path d="M246.5 261.5L285.1 185.8L283.8 185.1Z" fill="url(#b85)" fill-opacity="0.76"/><path d="M246.5 261.5L279.4 194.1L278.2 193.5Z" fill="url(#b75)" fill-opacity="0.67"/><path d="M246.5 261.5L282.4 184.5L281.1 183.8Z" fill="url(#b85)" fill-opacity="0.52"/><path d="M246.5 261.5L285.1 174.7L283.6 174.1Z" fill="url(#b95)" fill-opacity="0.59"/><path d="M246.5 261.5L279.7 183.3L278.3 182.7Z" fill="url(#b85)" fill-opacity="0.52"/><path d="M246.5 261.5L282.1 173.4L280.5 172.8Z" fill="url(#b95)" fill-opacity="0.44"/><path d="M246.5 261.5L282.3 168.1L280.7 167.5Z" fill="url(#b100)" fill-opacity="0.87"/><path d="M246.5 261.5L279.0 172.2L277.4 171.7Z" fill="url(#b95)" fill-opacity="0.93"/><path d="M246.5 261.5L274.2 181.1L272.8 180.7Z" fill="url(#b85)" fill-opacity="0.49"/><path d="M246.5 261.5L272.8 180.7L271.4 180.2Z" fill="url(#b85)" fill-opacity="0.74"/><path d="M246.5 261.5L275.7 165.9L274.1 165.4Z" fill="url(#b100)" fill-opacity="0.45"/><path d="M246.5 261.5L274.1 165.4L272.4 164.9Z" fill="url(#b100)" fill-opacity="0.57"/><path d="M246.5 261.5L265.9 189.1L264.6 188.7Z" fill="url(#b75)" fill-opacity="0.61"/><path d="M246.5 261.5L270.7 164.5L269.0 164.1Z" fill="url(#b100)" fill-opacity="0.65"/><path d="M246.5 261.5L263.4 188.4L262.1 188.1Z" fill="url(#b75)" fill-opacity="0.95"/><path d="M246.5 261.5L265.2 173.5L263.7 173.2Z" fill="url(#b90)" fill-opacity="0.77"/><path d="M246.5 261.5L261.8 183.0L260.4 182.7Z" fill="url(#b80)" fill-opacity="0.90"/><path d="M246.5 261.5L263.9 163.0L262.1 162.7Z" fill="url(#b100)" fill-opacity="0.71"/><path d="M246.5 261.5L259.8 177.5L258.3 177.3Z" fill="url(#b85)" fill-opacity="0.62"/><path d="M246.5 261.5L256.9 187.2L255.6 187.1Z" fill="url(#b75)" fill-opacity="0.76"/><path d="M246.5 261.5L255.6 187.1L254.3 186.9Z" fill="url(#b75)" fill-opacity="0.75"/><path d="M246.5 261.5L255.9 172.0L254.3 171.8Z" fill="url(#b90)" fill-opacity="0.65"/><path d="M246.5 261.5L254.3 171.8L252.8 171.7Z" fill="url(#b90)" fill-opacity="0.57"/><path d="M246.5 261.5L252.8 171.7L251.2 171.6Z" fill="url(#b90)" fill-opacity="0.87"/><path d="M246.5 261.5L250.7 181.6L249.3 181.5Z" fill="url(#b80)" fill-opacity="0.55"/><path d="M246.5 261.5L249.5 176.6L248.0 176.5Z" fill="url(#b85)" fill-opacity="0.74"/><path d="M246.5 261.5L248.0 176.5L246.5 176.5Z" fill="url(#b85)" fill-opacity="0.97"/><path d="M246.5 261.5L246.5 161.5L244.8 161.5Z" fill="url(#b100)" fill-opacity="0.66"/><path d="M246.5 261.5L244.8 166.5L243.2 166.6Z" fill="url(#b95)" fill-opacity="0.84"/><path d="M246.5 261.5L243.2 166.6L241.5 166.6Z" fill="url(#b95)" fill-opacity="0.93"/><path d="M246.5 261.5L240.7 151.7L238.8 151.8Z" fill="url(#b110)" fill-opacity="0.94"/><path d="M246.5 261.5L240.2 171.7L238.7 171.8Z" fill="url(#b90)" fill-opacity="0.58"/><path d="M246.5 261.5L239.5 181.8L238.1 181.9Z" fill="url(#b80)" fill-opacity="0.98"/><path d="M246.5 261.5L235.5 157.1L233.7 157.3Z" fill="url(#b105)" fill-opacity="0.42"/><path d="M246.5 261.5L237.4 187.1L236.1 187.2Z" fill="url(#b75)" fill-opacity="0.79"/><path d="M246.5 261.5L232.6 162.5L230.9 162.7Z" fill="url(#b100)" fill-opacity="0.85"/><path d="M246.5 261.5L232.4 172.6L230.9 172.9Z" fill="url(#b90)" fill-opacity="0.41"/><path d="M246.5 261.5L229.1 163.0L227.4 163.3Z" fill="url(#b100)" fill-opacity="0.83"/><path d="M246.5 261.5L229.3 173.2L227.8 173.5Z" fill="url(#b90)" fill-opacity="0.57"/><path d="M246.5 261.5L227.8 173.5L226.3 173.8Z" fill="url(#b90)" fill-opacity="0.90"/><path d="M246.5 261.5L222.9 159.2L221.1 159.6Z" fill="url(#b105)" fill-opacity="0.66"/><path d="M246.5 261.5L224.7 174.2L223.2 174.6Z" fill="url(#b90)" fill-opacity="0.78"/><path d="M246.5 261.5L224.5 179.4L223.1 179.8Z" fill="url(#b85)" fill-opacity="0.47"/><path d="M246.5 261.5L220.3 170.2L218.7 170.7Z" fill="url(#b95)" fill-opacity="0.89"/><path d="M246.5 261.5L224.6 189.8L223.3 190.2Z" fill="url(#b75)" fill-opacity="0.58"/><path d="M246.5 261.5L218.7 175.9L217.2 176.4Z" fill="url(#b90)" fill-opacity="0.52"/><path d="M246.5 261.5L215.6 171.7L214.0 172.2Z" fill="url(#b95)" fill-opacity="0.51"/><path d="M246.5 261.5L220.8 191.0L219.6 191.5Z" fill="url(#b75)" fill-opacity="0.46"/><path d="M246.5 261.5L210.7 168.1L209.0 168.8Z" fill="url(#b100)" fill-opacity="0.56"/><path d="M246.5 261.5L216.5 187.3L215.2 187.9Z" fill="url(#b80)" fill-opacity="0.99"/><path d="M246.5 261.5L211.3 178.7L209.9 179.3Z" fill="url(#b90)" fill-opacity="0.65"/><path d="M246.5 261.5L209.9 179.3L208.5 179.9Z" fill="url(#b90)" fill-opacity="0.73"/><path d="M246.5 261.5L214.8 193.5L213.6 194.1Z" fill="url(#b75)" fill-opacity="0.58"/><path d="M246.5 261.5L207.0 180.6L205.6 181.3Z" fill="url(#b90)" fill-opacity="0.51"/><path d="M246.5 261.5L201.1 172.4L199.6 173.2Z" fill="url(#b100)" fill-opacity="0.79"/><path d="M246.5 261.5L208.9 190.9L207.7 191.5Z" fill="url(#b80)" fill-opacity="0.70"/><path d="M246.5 261.5L210.1 195.9L209.0 196.5Z" fill="url(#b75)" fill-opacity="0.75"/><path d="M246.5 261.5L196.5 174.9L195.0 175.8Z" fill="url(#b100)" fill-opacity="0.99"/><path d="M246.5 261.5L207.9 197.2L206.8 197.9Z" fill="url(#b75)" fill-opacity="0.67"/><path d="M246.5 261.5L190.9 172.5L189.3 173.4Z" fill="url(#b105)" fill-opacity="0.57"/><path d="M246.5 261.5L205.7 198.6L204.6 199.3Z" fill="url(#b75)" fill-opacity="0.43"/><path d="M246.5 261.5L190.6 178.6L189.1 179.6Z" fill="url(#b100)" fill-opacity="0.89"/><path d="M246.5 261.5L189.1 179.6L187.7 180.6Z" fill="url(#b100)" fill-opacity="0.40"/><path d="M246.5 261.5L199.5 196.8L198.4 197.6Z" fill="url(#b80)" fill-opacity="0.41"/><path d="M246.5 261.5L192.3 189.6L191.1 190.6Z" fill="url(#b90)" fill-opacity="0.96"/><path d="M246.5 261.5L188.0 186.6L186.7 187.7Z" fill="url(#b95)" fill-opacity="0.87"/><path d="M246.5 261.5L180.4 179.9L179.0 181.1Z" fill="url(#b105)" fill-opacity="0.53"/><path d="M246.5 261.5L191.9 196.4L190.7 197.3Z" fill="url(#b85)" fill-opacity="0.95"/><path d="M246.5 261.5L184.2 189.8L182.9 190.9Z" fill="url(#b95)" fill-opacity="0.84"/><path d="M246.5 261.5L179.6 187.2L178.3 188.4Z" fill="url(#b100)" fill-opacity="0.85"/><path d="M246.5 261.5L188.5 199.3L187.5 200.4Z" fill="url(#b85)" fill-opacity="0.79"/><path d="M246.5 261.5L187.5 200.4L186.4 201.4Z" fill="url(#b85)" fill-opacity="0.89"/><path d="M246.5 261.5L182.9 197.9L181.8 199.0Z" fill="url(#b90)" fill-opacity="0.42"/><path d="M246.5 261.5L192.5 209.4L191.6 210.4Z" fill="url(#b75)" fill-opacity="0.82"/><path d="M246.5 261.5L171.6 257.6L171.5 258.9Z" fill="url(#b75)" fill-opacity="0.99"/><path d="M246.5 261.5L191.5 259.6L191.5 260.5Z" fill="url(#b55)" fill-opacity="0.52"/><path d="M246.5 261.5L176.5 260.3L176.5 261.5Z" fill="url(#b70)" fill-opacity="0.74"/></g><path d="M246.5 261.5L181.5 261.5L181.5 262.6Z" fill="url(#a65)" fill-opacity="0.57"/><path d="M246.5 261.5L181.5 262.6L181.5 263.8Z" fill="url(#a65)" fill-opacity="1.00"/><path d="M246.5 261.5L191.5 263.4L191.6 264.4Z" fill="url(#a55)" fill-opacity="0.53"/><path d="M246.5 261.5L186.6 264.6L186.6 265.7Z" fill="url(#a60)" fill-opacity="0.84"/><path d="M246.5 261.5L191.6 265.3L191.7 266.3Z" fill="url(#a55)" fill-opacity="0.61"/><path d="M246.5 261.5L191.7 266.3L191.8 267.2Z" fill="url(#a55)" fill-opacity="0.87"/><path d="M246.5 261.5L176.9 268.8L177.0 270.0Z" fill="url(#a70)" fill-opacity="1.00"/><path d="M246.5 261.5L182.0 269.4L182.1 270.5Z" fill="url(#a65)" fill-opacity="0.59"/><path d="M246.5 261.5L197.0 268.5L197.1 269.3Z" fill="url(#a50)" fill-opacity="0.53"/><path d="M246.5 261.5L192.2 270.1L192.3 271.1Z" fill="url(#a55)" fill-opacity="0.96"/><path d="M246.5 261.5L182.5 272.8L182.7 273.9Z" fill="url(#a65)" fill-opacity="0.90"/><path d="M246.5 261.5L192.5 272.0L192.7 272.9Z" fill="url(#a55)" fill-opacity="0.91"/><path d="M246.5 261.5L192.7 272.9L192.9 273.9Z" fill="url(#a55)" fill-opacity="0.78"/><path d="M246.5 261.5L192.9 273.9L193.1 274.8Z" fill="url(#a55)" fill-opacity="0.57"/><path d="M246.5 261.5L183.4 277.2L183.7 278.3Z" fill="url(#a65)" fill-opacity="0.57"/><path d="M246.5 261.5L193.4 275.7L193.6 276.7Z" fill="url(#a55)" fill-opacity="0.86"/><path d="M246.5 261.5L198.4 275.3L198.7 276.1Z" fill="url(#a50)" fill-opacity="0.71"/><path d="M246.5 261.5L193.9 277.6L194.2 278.5Z" fill="url(#a55)" fill-opacity="0.50"/><path d="M246.5 261.5L184.7 281.6L185.0 282.7Z" fill="url(#a65)" fill-opacity="0.86"/><path d="M246.5 261.5L180.3 284.3L180.7 285.4Z" fill="url(#a70)" fill-opacity="0.85"/><path d="M246.5 261.5L190.1 282.0L190.5 283.0Z" fill="url(#a60)" fill-opacity="0.80"/><path d="M246.5 261.5L195.2 281.2L195.5 282.1Z" fill="url(#a55)" fill-opacity="0.81"/><path d="M246.5 261.5L195.5 282.1L195.9 283.0Z" fill="url(#a55)" fill-opacity="1.00"/><path d="M246.5 261.5L195.9 283.0L196.3 283.9Z" fill="url(#a55)" fill-opacity="0.85"/><path d="M246.5 261.5L182.6 290.0L183.1 291.1Z" fill="url(#a70)" fill-opacity="0.69"/><path d="M246.5 261.5L187.6 289.0L188.1 290.0Z" fill="url(#a65)" fill-opacity="1.00"/><path d="M246.5 261.5L183.6 292.2L184.1 293.3Z" fill="url(#a70)" fill-opacity="1.00"/><path d="M246.5 261.5L239.2 290.6L239.8 290.7Z" fill="url(#a30)" fill-opacity="0.78"/><path d="M246.5 261.5L239.8 290.7L240.3 290.8Z" fill="url(#a30)" fill-opacity="1.00"/><path d="M246.5 261.5L240.3 290.8L240.8 290.9Z" fill="url(#a30)" fill-opacity="0.55"/><path d="M246.5 261.5L241.7 286.0L242.2 286.1Z" fill="url(#a25)" fill-opacity="0.55"/><path d="M246.5 261.5L241.3 291.0L241.8 291.1Z" fill="url(#a30)" fill-opacity="0.75"/><path d="M246.5 261.5L241.8 291.1L242.3 291.2Z" fill="url(#a30)" fill-opacity="0.76"/><path d="M246.5 261.5L243.0 286.3L243.5 286.3Z" fill="url(#a25)" fill-opacity="0.70"/><path d="M246.5 261.5L242.2 296.2L242.8 296.3Z" fill="url(#a35)" fill-opacity="0.92"/><path d="M246.5 261.5L243.9 286.4L244.3 286.4Z" fill="url(#a25)" fill-opacity="0.87"/><path d="M246.5 261.5L243.9 291.4L244.4 291.4Z" fill="url(#a30)" fill-opacity="1.00"/><path d="M246.5 261.5L244.4 291.4L244.9 291.5Z" fill="url(#a30)" fill-opacity="1.00"/><path d="M246.5 261.5L244.9 291.5L245.5 291.5Z" fill="url(#a30)" fill-opacity="0.88"/><path d="M246.5 261.5L245.5 291.5L246.0 291.5Z" fill="url(#a30)" fill-opacity="0.89"/><path d="M246.5 261.5L246.0 291.5L246.5 291.5Z" fill="url(#a30)" fill-opacity="0.52"/><path d="M246.5 261.5L246.5 291.5L247.0 291.5Z" fill="url(#a30)" fill-opacity="0.79"/><path d="M246.5 261.5L247.0 291.5L247.5 291.5Z" fill="url(#a30)" fill-opacity="0.99"/><path d="M246.5 261.5L247.5 291.5L248.1 291.5Z" fill="url(#a30)" fill-opacity="0.57"/><path d="M246.5 261.5L247.8 286.5L248.2 286.4Z" fill="url(#a25)" fill-opacity="0.50"/><path d="M246.5 261.5L250.0 311.4L250.9 311.3Z" fill="url(#a50)" fill-opacity="0.78"/><path d="M246.5 261.5L251.3 316.3L252.2 316.2Z" fill="url(#a55)" fill-opacity="0.73"/><path d="M246.5 261.5L252.2 316.2L253.2 316.1Z" fill="url(#a55)" fill-opacity="0.96"/><path d="M246.5 261.5L253.2 316.1L254.2 316.0Z" fill="url(#a55)" fill-opacity="0.59"/><path d="M246.5 261.5L254.2 316.0L255.1 315.8Z" fill="url(#a55)" fill-opacity="0.67"/><path d="M246.5 261.5L256.7 325.7L257.8 325.5Z" fill="url(#a65)" fill-opacity="0.68"/><path d="M246.5 261.5L256.9 320.6L257.9 320.4Z" fill="url(#a60)" fill-opacity="0.53"/><path d="M246.5 261.5L256.0 310.6L256.9 310.4Z" fill="url(#a50)" fill-opacity="0.58"/><path d="M246.5 261.5L259.0 320.2L260.0 320.0Z" fill="url(#a60)" fill-opacity="0.82"/><path d="M246.5 261.5L257.7 310.2L258.6 310.0Z" fill="url(#a50)" fill-opacity="0.68"/><path d="M246.5 261.5L261.0 319.7L262.0 319.5Z" fill="url(#a60)" fill-opacity="0.80"/><path d="M246.5 261.5L267.2 338.8L268.6 338.4Z" fill="url(#a80)" fill-opacity="0.93"/><path d="M246.5 261.5L261.7 314.4L262.6 314.1Z" fill="url(#a55)" fill-opacity="0.61"/><path d="M246.5 261.5L267.0 328.4L268.1 328.1Z" fill="url(#a70)" fill-opacity="0.86"/><path d="M246.5 261.5L263.5 313.8L264.4 313.5Z" fill="url(#a55)" fill-opacity="0.70"/><path d="M246.5 261.5L266.0 318.2L267.0 317.9Z" fill="url(#a60)" fill-opacity="0.49"/><path d="M246.5 261.5L268.7 322.6L269.8 322.2Z" fill="url(#a65)" fill-opacity="0.49"/><path d="M246.5 261.5L273.4 331.5L274.6 331.0Z" fill="url(#a75)" fill-opacity="0.82"/><path d="M246.5 261.5L280.2 344.9L281.7 344.3Z" fill="url(#a90)" fill-opacity="0.73"/><path d="M246.5 261.5L275.8 330.5L277.0 330.0Z" fill="url(#a75)" fill-opacity="0.82"/><path d="M246.5 261.5L275.0 325.4L276.1 324.9Z" fill="url(#a70)" fill-opacity="0.79"/><path d="M246.5 261.5L286.6 347.6L288.1 346.9Z" fill="url(#a95)" fill-opacity="0.58"/><path d="M246.5 261.5L286.0 342.4L287.4 341.7Z" fill="url(#a90)" fill-opacity="0.94"/><path d="M246.5 261.5L287.4 341.7L288.8 341.0Z" fill="url(#a90)" fill-opacity="0.85"/><path d="M246.5 261.5L281.7 327.7L282.9 327.1Z" fill="url(#a75)" fill-opacity="0.78"/><path d="M246.5 261.5L295.0 349.0L296.5 348.1Z" fill="url(#a100)" fill-opacity="0.68"/><path d="M246.5 261.5L294.0 343.8L295.4 342.9Z" fill="url(#a95)" fill-opacity="1.00"/><path d="M246.5 261.5L285.1 325.8L286.2 325.1Z" fill="url(#a75)" fill-opacity="0.88"/><path d="M246.5 261.5L291.5 333.6L292.8 332.8Z" fill="url(#a85)" fill-opacity="0.45"/><path d="M246.5 261.5L287.3 324.4L288.4 323.7Z" fill="url(#a75)" fill-opacity="0.61"/><path d="M246.5 261.5L296.8 336.1L298.1 335.2Z" fill="url(#a90)" fill-opacity="0.64"/><path d="M246.5 261.5L286.7 318.8L287.6 318.1Z" fill="url(#a70)" fill-opacity="0.65"/><path d="M246.5 261.5L290.6 322.2L291.6 321.4Z" fill="url(#a75)" fill-opacity="0.82"/><path d="M246.5 261.5L297.7 329.4L298.8 328.5Z" fill="url(#a85)" fill-opacity="0.49"/><path d="M246.5 261.5L295.8 324.5L296.8 323.7Z" fill="url(#a80)" fill-opacity="1.00"/><path d="M246.5 261.5L300.0 327.6L301.1 326.6Z" fill="url(#a85)" fill-opacity="0.58"/><path d="M246.5 261.5L301.1 326.6L302.3 325.7Z" fill="url(#a85)" fill-opacity="0.51"/><path d="M246.5 261.5L292.4 314.3L293.3 313.5Z" fill="url(#a70)" fill-opacity="0.75"/><path d="M246.5 261.5L296.7 317.2L297.6 316.4Z" fill="url(#a75)" fill-opacity="0.91"/><path d="M246.5 261.5L311.3 331.0L312.5 329.8Z" fill="url(#a95)" fill-opacity="0.44"/><path d="M246.5 261.5L302.1 319.0L303.1 318.1Z" fill="url(#a80)" fill-opacity="0.86"/><path d="M246.5 261.5L303.1 318.1L304.0 317.1Z" fill="url(#a80)" fill-opacity="0.74"/><path d="M246.5 261.5L300.5 313.6L301.4 312.6Z" fill="url(#a75)" fill-opacity="0.72"/><path d="M246.5 261.5L301.4 312.6L302.2 311.7Z" fill="url(#a75)" fill-opacity="0.99"/><path d="M246.5 261.5L306.0 315.0L306.9 314.0Z" fill="url(#a80)" fill-opacity="1.00"/><path d="M246.5 261.5L303.1 310.7L304.0 309.7Z" fill="url(#a75)" fill-opacity="0.90"/><path d="M246.5 261.5L304.0 309.7L304.8 308.7Z" fill="url(#a75)" fill-opacity="0.67"/><path d="M246.5 261.5L304.8 308.7L305.6 307.7Z" fill="url(#a75)" fill-opacity="0.68"/><path d="M246.5 261.5L317.4 316.9L318.4 315.7Z" fill="url(#a90)" fill-opacity="1.00"/><path d="M246.5 261.5L298.4 300.6L299.1 299.7Z" fill="url(#a65)" fill-opacity="0.77"/><path d="M246.5 261.5L319.3 314.4L320.2 313.1Z" fill="url(#a90)" fill-opacity="0.74"/><path d="M246.5 261.5L299.7 298.8L300.4 297.8Z" fill="url(#a65)" fill-opacity="0.77"/><path d="M246.5 261.5L317.0 309.0L317.8 307.8Z" fill="url(#a85)" fill-opacity="0.81"/><path d="M246.5 261.5L313.6 305.1L314.3 303.9Z" fill="url(#a80)" fill-opacity="0.57"/><path d="M246.5 261.5L314.3 303.9L315.1 302.7Z" fill="url(#a80)" fill-opacity="0.82"/><path d="M246.5 261.5L315.1 302.7L315.8 301.5Z" fill="url(#a80)" fill-opacity="0.71"/><path d="M246.5 261.5L328.8 309.0L329.6 307.6Z" fill="url(#a95)" fill-opacity="0.69"/><path d="M246.5 261.5L312.1 297.9L312.7 296.7Z" fill="url(#a75)" fill-opacity="0.56"/><path d="M246.5 261.5L317.1 299.1L317.8 297.8Z" fill="url(#a80)" fill-opacity="0.78"/><path d="M246.5 261.5L313.3 295.5L313.9 294.4Z" fill="url(#a75)" fill-opacity="0.75"/><path d="M246.5 261.5L313.9 294.4L314.5 293.2Z" fill="url(#a75)" fill-opacity="0.47"/><path d="M246.5 261.5L319.0 295.3L319.6 294.0Z" fill="url(#a80)" fill-opacity="0.51"/><path d="M246.5 261.5L315.0 292.0L315.5 290.8Z" fill="url(#a75)" fill-opacity="0.45"/><path d="M246.5 261.5L310.9 288.9L311.4 287.7Z" fill="url(#a70)" fill-opacity="0.59"/><path d="M246.5 261.5L320.7 291.5L321.2 290.2Z" fill="url(#a80)" fill-opacity="0.81"/><path d="M246.5 261.5L330.5 293.8L331.1 292.3Z" fill="url(#a90)" fill-opacity="1.00"/><path d="M246.5 261.5L331.1 292.3L331.6 290.8Z" fill="url(#a90)" fill-opacity="0.55"/><path d="M246.5 261.5L331.6 290.8L332.1 289.3Z" fill="url(#a90)" fill-opacity="0.82"/><path d="M246.5 261.5L332.1 289.3L332.6 287.8Z" fill="url(#a90)" fill-opacity="0.66"/><path d="M246.5 261.5L318.2 283.4L318.6 282.2Z" fill="url(#a75)" fill-opacity="0.44"/><path d="M246.5 261.5L313.8 280.8L314.1 279.6Z" fill="url(#a70)" fill-opacity="0.49"/><path d="M246.5 261.5L328.6 283.5L329.0 282.1Z" fill="url(#a85)" fill-opacity="0.69"/><path d="M246.5 261.5L314.4 278.4L314.7 277.2Z" fill="url(#a70)" fill-opacity="0.99"/><path d="M246.5 261.5L319.6 278.4L319.9 277.1Z" fill="url(#a75)" fill-opacity="0.44"/><path d="M246.5 261.5L310.1 275.0L310.3 273.9Z" fill="url(#a65)" fill-opacity="0.85"/><path d="M246.5 261.5L325.0 276.8L325.3 275.4Z" fill="url(#a80)" fill-opacity="0.79"/><path d="M246.5 261.5L325.3 275.4L325.5 274.0Z" fill="url(#a80)" fill-opacity="0.53"/><path d="M246.5 261.5L340.3 276.4L340.6 274.7Z" fill="url(#a95)" fill-opacity="0.73"/><path d="M246.5 261.5L330.7 273.3L330.9 271.9Z" fill="url(#a85)" fill-opacity="0.75"/><path d="M246.5 261.5L311.0 269.4L311.1 268.3Z" fill="url(#a65)" fill-opacity="0.60"/><path d="M246.5 261.5L336.0 270.9L336.2 269.3Z" fill="url(#a90)" fill-opacity="0.84"/><path d="M246.5 261.5L321.2 268.0L321.3 266.7Z" fill="url(#a75)" fill-opacity="0.69"/><path d="M246.5 261.5L321.3 266.7L321.4 265.4Z" fill="url(#a75)" fill-opacity="0.84"/><path d="M246.5 261.5L336.4 266.2L336.4 264.6Z" fill="url(#a90)" fill-opacity="0.94"/><path d="M246.5 261.5L331.4 264.5L331.5 263.0Z" fill="url(#a85)" fill-opacity="0.66"/><path d="M246.5 261.5L326.5 262.9L326.5 261.5Z" fill="url(#a80)" fill-opacity="0.99"/><path d="M246.5 261.5L316.5 261.5L316.5 260.3Z" fill="url(#a70)" fill-opacity="0.68"/><path d="M246.5 261.5L336.5 259.9L336.4 258.4Z" fill="url(#a90)" fill-opacity="0.45"/><path d="M246.5 261.5L336.4 258.4L336.4 256.8Z" fill="url(#a90)" fill-opacity="0.52"/><path d="M246.5 261.5L321.4 257.6L321.3 256.3Z" fill="url(#a75)" fill-opacity="0.70"/><path d="M246.5 261.5L321.3 256.3L321.2 255.0Z" fill="url(#a75)" fill-opacity="0.67"/><path d="M246.5 261.5L331.2 254.1L331.0 252.6Z" fill="url(#a85)" fill-opacity="0.54"/><path d="M246.5 261.5L331.0 252.6L330.9 251.1Z" fill="url(#a85)" fill-opacity="0.73"/><path d="M246.5 261.5L325.9 251.8L325.7 250.4Z" fill="url(#a80)" fill-opacity="0.99"/><path d="M246.5 261.5L330.7 249.7L330.5 248.2Z" fill="url(#a85)" fill-opacity="1.00"/><path d="M246.5 261.5L340.3 246.6L340.1 245.0Z" fill="url(#a95)" fill-opacity="0.97"/><path d="M246.5 261.5L330.2 246.7L329.9 245.3Z" fill="url(#a85)" fill-opacity="0.48"/><path d="M246.5 261.5L325.0 246.2L324.8 244.9Z" fill="url(#a80)" fill-opacity="1.00"/><path d="M246.5 261.5L319.9 245.9L319.6 244.6Z" fill="url(#a75)" fill-opacity="0.76"/><path d="M246.5 261.5L324.4 243.5L324.1 242.1Z" fill="url(#a80)" fill-opacity="0.78"/><path d="M246.5 261.5L333.8 239.7L333.4 238.2Z" fill="url(#a90)" fill-opacity="0.79"/><path d="M246.5 261.5L328.6 239.5L328.2 238.1Z" fill="url(#a85)" fill-opacity="0.60"/><path d="M246.5 261.5L313.8 242.2L313.4 241.0Z" fill="url(#a70)" fill-opacity="0.89"/><path d="M246.5 261.5L337.3 233.7L336.9 232.1Z" fill="url(#a95)" fill-opacity="0.61"/><path d="M246.5 261.5L308.3 241.4L308.0 240.3Z" fill="url(#a65)" fill-opacity="0.68"/><path d="M246.5 261.5L317.4 237.1L317.0 235.8Z" fill="url(#a75)" fill-opacity="0.48"/><path d="M246.5 261.5L335.8 229.0L335.2 227.5Z" fill="url(#a95)" fill-opacity="0.57"/><path d="M246.5 261.5L321.2 232.8L320.7 231.5Z" fill="url(#a80)" fill-opacity="0.86"/><path d="M246.5 261.5L325.3 229.7L324.7 228.3Z" fill="url(#a85)" fill-opacity="0.75"/><path d="M246.5 261.5L306.3 236.1L305.9 235.1Z" fill="url(#a65)" fill-opacity="0.80"/><path d="M246.5 261.5L305.9 235.1L305.4 234.0Z" fill="url(#a65)" fill-opacity="0.74"/><path d="M246.5 261.5L305.4 234.0L304.9 233.0Z" fill="url(#a65)" fill-opacity="0.57"/><path d="M246.5 261.5L318.4 226.4L317.8 225.2Z" fill="url(#a80)" fill-opacity="0.97"/><path d="M246.5 261.5L317.8 225.2L317.1 223.9Z" fill="url(#a80)" fill-opacity="0.77"/><path d="M246.5 261.5L308.3 228.6L307.7 227.6Z" fill="url(#a70)" fill-opacity="0.66"/><path d="M246.5 261.5L316.5 222.7L315.8 221.5Z" fill="url(#a80)" fill-opacity="0.66"/><path d="M246.5 261.5L311.5 224.0L310.8 222.9Z" fill="url(#a75)" fill-opacity="0.73"/><path d="M246.5 261.5L306.5 225.4L305.9 224.4Z" fill="url(#a70)" fill-opacity="0.54"/><path d="M246.5 261.5L310.1 221.8L309.4 220.7Z" fill="url(#a75)" fill-opacity="0.50"/><path d="M246.5 261.5L313.6 217.9L312.8 216.8Z" fill="url(#a80)" fill-opacity="0.51"/><path d="M246.5 261.5L312.8 216.8L312.0 215.6Z" fill="url(#a80)" fill-opacity="0.55"/><path d="M246.5 261.5L299.7 224.2L299.1 223.3Z" fill="url(#a65)" fill-opacity="0.40"/><path d="M246.5 261.5L311.2 214.5L310.4 213.4Z" fill="url(#a80)" fill-opacity="0.71"/><path d="M246.5 261.5L310.4 213.4L309.5 212.2Z" fill="url(#a80)" fill-opacity="0.85"/><path d="M246.5 261.5L305.6 215.3L304.8 214.3Z" fill="url(#a75)" fill-opacity="0.57"/><path d="M246.5 261.5L308.7 211.2L307.8 210.1Z" fill="url(#a80)" fill-opacity="0.57"/><path d="M246.5 261.5L307.8 210.1L306.9 209.0Z" fill="url(#a80)" fill-opacity="0.93"/><path d="M246.5 261.5L299.3 215.6L298.5 214.7Z" fill="url(#a70)" fill-opacity="0.92"/><path d="M246.5 261.5L306.0 208.0L305.0 206.9Z" fill="url(#a80)" fill-opacity="0.56"/><path d="M246.5 261.5L308.7 203.5L307.6 202.5Z" fill="url(#a85)" fill-opacity="0.45"/><path d="M246.5 261.5L307.6 202.5L306.6 201.4Z" fill="url(#a85)" fill-opacity="0.68"/><path d="M246.5 261.5L303.1 204.9L302.1 204.0Z" fill="url(#a80)" fill-opacity="0.66"/><path d="M246.5 261.5L312.5 193.2L311.3 192.0Z" fill="url(#a95)" fill-opacity="0.56"/><path d="M246.5 261.5L297.6 206.6L296.7 205.8Z" fill="url(#a75)" fill-opacity="0.67"/><path d="M246.5 261.5L296.7 205.8L295.7 204.9Z" fill="url(#a75)" fill-opacity="0.87"/><path d="M246.5 261.5L305.5 193.6L304.4 192.6Z" fill="url(#a90)" fill-opacity="0.85"/><path d="M246.5 261.5L297.9 200.2L296.8 199.3Z" fill="url(#a80)" fill-opacity="0.75"/><path d="M246.5 261.5L293.7 203.2L292.7 202.4Z" fill="url(#a75)" fill-opacity="0.52"/><path d="M246.5 261.5L292.7 202.4L291.6 201.6Z" fill="url(#a75)" fill-opacity="0.87"/><path d="M246.5 261.5L288.6 205.6L287.6 204.9Z" fill="url(#a70)" fill-opacity="0.86"/><path d="M246.5 261.5L299.4 188.7L298.1 187.8Z" fill="url(#a90)" fill-opacity="0.44"/><path d="M246.5 261.5L292.4 196.0L291.2 195.2Z" fill="url(#a80)" fill-opacity="0.67"/><path d="M246.5 261.5L291.2 195.2L290.1 194.4Z" fill="url(#a80)" fill-opacity="0.50"/><path d="M246.5 261.5L295.5 186.0L294.2 185.2Z" fill="url(#a90)" fill-opacity="0.97"/><path d="M246.5 261.5L294.2 185.2L292.9 184.4Z" fill="url(#a90)" fill-opacity="0.64"/><path d="M246.5 261.5L290.3 188.6L289.0 187.9Z" fill="url(#a85)" fill-opacity="0.52"/><path d="M246.5 261.5L289.0 187.9L287.7 187.2Z" fill="url(#a85)" fill-opacity="1.00"/><path d="M246.5 261.5L297.4 169.7L295.8 168.8Z" fill="url(#a105)" fill-opacity="0.55"/><path d="M246.5 261.5L293.4 173.2L291.9 172.4Z" fill="url(#a100)" fill-opacity="0.54"/><path d="M246.5 261.5L285.1 185.8L283.8 185.1Z" fill="url(#a85)" fill-opacity="0.84"/><path d="M246.5 261.5L279.4 194.1L278.2 193.5Z" fill="url(#a75)" fill-opacity="0.74"/><path d="M246.5 261.5L282.4 184.5L281.1 183.8Z" fill="url(#a85)" fill-opacity="0.57"/><path d="M246.5 261.5L285.1 174.7L283.6 174.1Z" fill="url(#a95)" fill-opacity="0.65"/><path d="M246.5 261.5L279.7 183.3L278.3 182.7Z" fill="url(#a85)" fill-opacity="0.58"/><path d="M246.5 261.5L282.1 173.4L280.5 172.8Z" fill="url(#a95)" fill-opacity="0.48"/><path d="M246.5 261.5L282.3 168.1L280.7 167.5Z" fill="url(#a100)" fill-opacity="0.96"/><path d="M246.5 261.5L279.0 172.2L277.4 171.7Z" fill="url(#a95)" fill-opacity="1.00"/><path d="M246.5 261.5L274.2 181.1L272.8 180.7Z" fill="url(#a85)" fill-opacity="0.54"/><path d="M246.5 261.5L272.8 180.7L271.4 180.2Z" fill="url(#a85)" fill-opacity="0.81"/><path d="M246.5 261.5L275.7 165.9L274.1 165.4Z" fill="url(#a100)" fill-opacity="0.50"/><path d="M246.5 261.5L274.1 165.4L272.4 164.9Z" fill="url(#a100)" fill-opacity="0.62"/><path d="M246.5 261.5L265.9 189.1L264.6 188.7Z" fill="url(#a75)" fill-opacity="0.67"/><path d="M246.5 261.5L270.7 164.5L269.0 164.1Z" fill="url(#a100)" fill-opacity="0.72"/><path d="M246.5 261.5L263.4 188.4L262.1 188.1Z" fill="url(#a75)" fill-opacity="1.00"/><path d="M246.5 261.5L265.2 173.5L263.7 173.2Z" fill="url(#a90)" fill-opacity="0.85"/><path d="M246.5 261.5L261.8 183.0L260.4 182.7Z" fill="url(#a80)" fill-opacity="0.99"/><path d="M246.5 261.5L263.9 163.0L262.1 162.7Z" fill="url(#a100)" fill-opacity="0.78"/><path d="M246.5 261.5L259.8 177.5L258.3 177.3Z" fill="url(#a85)" fill-opacity="0.68"/><path d="M246.5 261.5L256.9 187.2L255.6 187.1Z" fill="url(#a75)" fill-opacity="0.83"/><path d="M246.5 261.5L255.6 187.1L254.3 186.9Z" fill="url(#a75)" fill-opacity="0.83"/><path d="M246.5 261.5L255.9 172.0L254.3 171.8Z" fill="url(#a90)" fill-opacity="0.72"/><path d="M246.5 261.5L254.3 171.8L252.8 171.7Z" fill="url(#a90)" fill-opacity="0.63"/><path d="M246.5 261.5L252.8 171.7L251.2 171.6Z" fill="url(#a90)" fill-opacity="0.95"/><path d="M246.5 261.5L250.7 181.6L249.3 181.5Z" fill="url(#a80)" fill-opacity="0.60"/><path d="M246.5 261.5L249.5 176.6L248.0 176.5Z" fill="url(#a85)" fill-opacity="0.82"/><path d="M246.5 261.5L248.0 176.5L246.5 176.5Z" fill="url(#a85)" fill-opacity="1.00"/><path d="M246.5 261.5L246.5 161.5L244.8 161.5Z" fill="url(#a100)" fill-opacity="0.73"/><path d="M246.5 261.5L244.8 166.5L243.2 166.6Z" fill="url(#a95)" fill-opacity="0.93"/><path d="M246.5 261.5L243.2 166.6L241.5 166.6Z" fill="url(#a95)" fill-opacity="1.00"/><path d="M246.5 261.5L240.7 151.7L238.8 151.8Z" fill="url(#a110)" fill-opacity="1.00"/><path d="M246.5 261.5L240.2 171.7L238.7 171.8Z" fill="url(#a90)" fill-opacity="0.63"/><path d="M246.5 261.5L239.5 181.8L238.1 181.9Z" fill="url(#a80)" fill-opacity="1.00"/><path d="M246.5 261.5L235.5 157.1L233.7 157.3Z" fill="url(#a105)" fill-opacity="0.46"/><path d="M246.5 261.5L237.4 187.1L236.1 187.2Z" fill="url(#a75)" fill-opacity="0.87"/><path d="M246.5 261.5L232.6 162.5L230.9 162.7Z" fill="url(#a100)" fill-opacity="0.93"/><path d="M246.5 261.5L232.4 172.6L230.9 172.9Z" fill="url(#a90)" fill-opacity="0.45"/><path d="M246.5 261.5L229.1 163.0L227.4 163.3Z" fill="url(#a100)" fill-opacity="0.92"/><path d="M246.5 261.5L229.3 173.2L227.8 173.5Z" fill="url(#a90)" fill-opacity="0.63"/><path d="M246.5 261.5L227.8 173.5L226.3 173.8Z" fill="url(#a90)" fill-opacity="0.99"/><path d="M246.5 261.5L222.9 159.2L221.1 159.6Z" fill="url(#a105)" fill-opacity="0.73"/><path d="M246.5 261.5L224.7 174.2L223.2 174.6Z" fill="url(#a90)" fill-opacity="0.86"/><path d="M246.5 261.5L224.5 179.4L223.1 179.8Z" fill="url(#a85)" fill-opacity="0.52"/><path d="M246.5 261.5L220.3 170.2L218.7 170.7Z" fill="url(#a95)" fill-opacity="0.98"/><path d="M246.5 261.5L224.6 189.8L223.3 190.2Z" fill="url(#a75)" fill-opacity="0.64"/><path d="M246.5 261.5L218.7 175.9L217.2 176.4Z" fill="url(#a90)" fill-opacity="0.57"/><path d="M246.5 261.5L215.6 171.7L214.0 172.2Z" fill="url(#a95)" fill-opacity="0.56"/><path d="M246.5 261.5L220.8 191.0L219.6 191.5Z" fill="url(#a75)" fill-opacity="0.50"/><path d="M246.5 261.5L210.7 168.1L209.0 168.8Z" fill="url(#a100)" fill-opacity="0.62"/><path d="M246.5 261.5L216.5 187.3L215.2 187.9Z" fill="url(#a80)" fill-opacity="1.00"/><path d="M246.5 261.5L211.3 178.7L209.9 179.3Z" fill="url(#a90)" fill-opacity="0.72"/><path d="M246.5 261.5L209.9 179.3L208.5 179.9Z" fill="url(#a90)" fill-opacity="0.80"/><path d="M246.5 261.5L214.8 193.5L213.6 194.1Z" fill="url(#a75)" fill-opacity="0.64"/><path d="M246.5 261.5L207.0 180.6L205.6 181.3Z" fill="url(#a90)" fill-opacity="0.56"/><path d="M246.5 261.5L201.1 172.4L199.6 173.2Z" fill="url(#a100)" fill-opacity="0.87"/><path d="M246.5 261.5L208.9 190.9L207.7 191.5Z" fill="url(#a80)" fill-opacity="0.77"/><path d="M246.5 261.5L210.1 195.9L209.0 196.5Z" fill="url(#a75)" fill-opacity="0.83"/><path d="M246.5 261.5L196.5 174.9L195.0 175.8Z" fill="url(#a100)" fill-opacity="1.00"/><path d="M246.5 261.5L207.9 197.2L206.8 197.9Z" fill="url(#a75)" fill-opacity="0.74"/><path d="M246.5 261.5L190.9 172.5L189.3 173.4Z" fill="url(#a105)" fill-opacity="0.63"/><path d="M246.5 261.5L205.7 198.6L204.6 199.3Z" fill="url(#a75)" fill-opacity="0.47"/><path d="M246.5 261.5L190.6 178.6L189.1 179.6Z" fill="url(#a100)" fill-opacity="0.98"/><path d="M246.5 261.5L189.1 179.6L187.7 180.6Z" fill="url(#a100)" fill-opacity="0.44"/><path d="M246.5 261.5L199.5 196.8L198.4 197.6Z" fill="url(#a80)" fill-opacity="0.45"/><path d="M246.5 261.5L192.3 189.6L191.1 190.6Z" fill="url(#a90)" fill-opacity="1.00"/><path d="M246.5 261.5L188.0 186.6L186.7 187.7Z" fill="url(#a95)" fill-opacity="0.96"/><path d="M246.5 261.5L180.4 179.9L179.0 181.1Z" fill="url(#a105)" fill-opacity="0.59"/><path d="M246.5 261.5L191.9 196.4L190.7 197.3Z" fill="url(#a85)" fill-opacity="1.00"/><path d="M246.5 261.5L184.2 189.8L182.9 190.9Z" fill="url(#a95)" fill-opacity="0.92"/><path d="M246.5 261.5L179.6 187.2L178.3 188.4Z" fill="url(#a100)" fill-opacity="0.94"/><path d="M246.5 261.5L188.5 199.3L187.5 200.4Z" fill="url(#a85)" fill-opacity="0.87"/><path d="M246.5 261.5L187.5 200.4L186.4 201.4Z" fill="url(#a85)" fill-opacity="0.98"/><path d="M246.5 261.5L182.9 197.9L181.8 199.0Z" fill="url(#a90)" fill-opacity="0.46"/><path d="M246.5 261.5L192.5 209.4L191.6 210.4Z" fill="url(#a75)" fill-opacity="0.90"/><path d="M246.5 261.5L171.6 257.6L171.5 258.9Z" fill="url(#a75)" fill-opacity="1.00"/><path d="M246.5 261.5L191.5 259.6L191.5 260.5Z" fill="url(#a55)" fill-opacity="0.57"/><path d="M246.5 261.5L176.5 260.3L176.5 261.5Z" fill="url(#a70)" fill-opacity="0.82"/><circle cx="246.5" cy="261.5" r="4.4" fill="#000"/>
</svg><canvas id="snr" width="375" height="375" style="position:absolute;left:59px;top:74px"></canvas><script>(function(){
var c=document.getElementById('snr');if(!c||!c.getContext)return;
var ctx=c.getContext('2d'),W=375,H=375,cx=187.5,cy=187.5;
var seed=777;function rnd(){seed|=0;seed=seed+0x6D2B79F5|0;var t=Math.imul(seed^seed>>>15,1|seed);t=t+Math.imul(t^t>>>7,61|t)^t;return((t^t>>>14)>>>0)/4294967296;}
var S=[[-104,-86,1.0,26],[-86,-76,1.0,50],[-76,-68,1.0,60],[-68,-45,0.95,74],[-45,-15,0.95,72],[-15,15,1.0,72],[15,35,0.9,72],[35,60,0.9,70],[60,90,1.0,79],[90,112,1.0,82],[112,137.5,1.0,80],[177,207,1.0,56]];
var PU=[0,0.2,0.4,0.6,0.8,1.0,1.2],PV=[1.2,1.12,0.98,0.8,0.56,0.28,0];function pf(u){if(u>=1.15)return 0;for(var q=1;q<PU.length;q++){if(u<PU[q]){var f=(u-PU[q-1])/(PU[q]-PU[q-1]);return PV[q-1]+(PV[q]-PV[q-1])*f;}}return 0;}
var NB=1440,A=new Float32Array(NB),R=new Float32Array(NB),G=new Float32Array(NB);
function sect(t){t=((t+180)%360+360)%360-180;for(var i=0;i<S.length;i++){if(t>=S[i][0]&&t<S[i][1])return S[i];}if(t+360>=177&&t+360<207)return S[11];return null;}
var i=0;
while(i<NB){var w,g,rr;
  {w=2+Math.floor(rnd()*7);g=0.42+0.58*rnd();rr=0.85+0.3*rnd();}
 for(var k=0;k<w&&i<NB;k++,i++){var t=i*0.25-180+0.125;var s=sect(t);
  if(s){A[i]=s[2];R[i]=s[3]*rr;G[i]=g;}else{A[i]=0;R[i]=1;G[i]=0;}}}
var BW=80,BH=1200,BN=new Float32Array(BW*BH);for(var k=0;k<BN.length;k++)BN[k]=rnd();
function vn(x,y){var gx=x,gy=y,ix=Math.floor(gx),iy=Math.floor(gy),fx=gx-ix,fy=gy-iy;var a=BN[iy*BW+ix],b=BN[iy*BW+ix+1],c2=BN[(iy+1)*BW+ix],e=BN[(iy+1)*BW+ix+1];return (a*(1-fx)+b*fx)*(1-fy)+(c2*(1-fx)+e*fx)*fy;}
var img=ctx.createImageData(W,H),d=img.data;
for(var y=0;y<H;y++){for(var x=0;x<W;x++){
 var dx=x+0.5-cx,dy=cy-(y+0.5),r=Math.sqrt(dx*dx+dy*dy);
 var th=Math.atan2(dy,dx)*180/Math.PI;var bi=Math.floor((th+180)/0.25)%NB;
 var v=0;
 if(A[bi]>0){var u=r/R[bi];var p=pf(u);
  var n=0.35*BN[((y>>1)*190+(x>>1))%BN.length]+0.65*rnd();
  var kk=Math.min(1,0.1+0.9*u);
  var tt=-0.12+0.72*u;var m=(n-(tt-0.22))/0.44;if(m<0)m=0;if(m>1)m=1;m=m*m*(3-2*m);m=0.12+0.88*m;if(u<0.25)m=1-(1-m)*(u/0.25);
  var gg=G[bi]+(1-G[bi])*Math.max(0,1-u*3);
  v=A[bi]*p*gg*m*(0.93+0.14*rnd());
  var hz=1-r/(R[bi]*1.5);if(hz>0&&n>0.75)v+=A[bi]*0.25*hz*(n-0.75)*4;
 }
 if(v<0.12&&rnd()<0.006)v+=0.1+0.1*rnd();
 if(r<4.6)v=0;
 var g=Math.max(0,Math.min(255,Math.round(v*255)));
 var j=(y*W+x)*4;d[j]=g;d[j+1]=g;d[j+2]=g;d[j+3]=255;}}
var L=new Float32Array(W*H);for(var q=0;q<W*H;q++)L[q]=d[q*4];
var K=0.65;for(var y=1;y<H-1;y++){for(var x=1;x<W-1;x++){var q=y*W+x;var av=(2*(L[q-1]+L[q+1]+L[q-W]+L[q+W])+L[q-W-1]+L[q-W+1]+L[q+W-1]+L[q+W+1])/12;var g=Math.round((1-K)*L[q]+K*av);d[q*4]=g;d[q*4+1]=g;d[q*4+2]=g;}}
ctx.putImageData(img,0,0);
})();
</script>
<svg width="870" height="570" viewBox="0 0 870 570" style="position:absolute;left:0;top:0">
<line x1="241.9" y1="259.5" x2="169.2" y2="228.7" stroke="#fff" stroke-opacity="0.28" stroke-width="1"/><line x1="243.6" y1="265.6" x2="231.0" y2="283.6" stroke="#fff" stroke-opacity="0.7" stroke-width="1"/><circle cx="246.5" cy="261.5" r="4.6" fill="#000"/>
<g fill="none" stroke="#fff" stroke-width="1.5" stroke-linejoin="round" stroke-linecap="round"><polyline points="60.1,179.2 68.5,179.2 71.2,177.6 73.3,173.4 75.4,173.2 82.2,176.6 88.0,181.1 94.8,179.2 104.3,175.5 114.8,169.7 127.0,161.8 128.0,154.5 130.6,153.4 130.6,149.7 133.3,147.1 130.6,143.9 128.0,143.9 127.5,146.0 124.8,141.8 128.0,139.7 129.6,135.5 132.2,134.5 138.0,134.0 153.5,133.2 154.1,146.4 158.1,145.5 162.2,146.2 163.9,140.1 161.6,138.4 162.7,134.4 165.6,134.4 167.9,131.5 169.6,133.2 173.1,136.1 178.3,136.1 185.7,139.3 190.9,137.2 196.1,137.8 203.0,139.5 205.3,142.4 208.7,143.2 213.3,141.3 219.1,141.8 223.7,137.8 226.0,136.1 228.3,137.8 231.7,136.7 234.7,132.6 238.2,135.7 242.2,132.2 243.9,130.9 242.2,128.7 247.4,125.6 250.1,126.9 255.3,123.0 254.4,126.9 257.5,128.2 259.7,126.5 259.7,123.4 262.3,123.0 263.2,116.4 271.1,116.8 271.5,121.2 276.8,122.1 279.9,122.5 282.1,132.2 283.4,137.9 278.1,138.3 275.5,136.6 274.6,137.9 277.7,145.4 284.7,143.2 283.8,140.1 286.0,140.5 289.5,144.9 294.4,142.7 292.6,137.9 294.8,136.6 296.5,140.5 299.2,139.6 305.0,136.9 302.9,129.8 295.8,131.9 287.4,129.1 293.7,125.6 287.4,110.2 298.6,104.6 309.2,123.5 312.7,122.8 312.7,126.3 307.8,129.1 309.2,132.6 319.0,127.7 316.2,120.7 314.8,116.5 317.6,117.9 319.0,120.7 324.6,116.5 323.2,113.7 321.1,114.4 312.0,102.5 317.6,96.2 332.3,107.4 337.9,101.8 335.1,99.0 332.3,101.8 320.4,89.8 323.9,81.4 330.2,78.6 350.6,84.9 352.0,75.1"/><polyline points="98.7,74.9 96.5,77.8 93.0,81.3 91.3,84.4 92.2,88.8 92.2,94.0 91.7,96.2 94.4,97.6 96.1,101.1 98.7,106.3 101.8,110.7 105.3,111.2 108.4,111.6 111.9,108.5 114.5,109.0 117.6,107.2 121.1,106.3 122.9,102.0 122.4,99.3 128.1,97.1 129.0,94.0 131.6,90.5 134.3,89.7 132.5,86.2 133.8,82.2 132.1,78.3 132.1,75.2"/><polyline points="87.3,85.3 88.5,84.3" stroke-width="2"/><polyline points="248.3,114.6 250.0,117.3" stroke-width="2"/><polyline points="347.8,75.8 349.9,79.3" stroke-width="2"/><polyline points="238.6,130.9 243.9,130.9" stroke-width="2"/></g>
<defs><filter id="hb" x="-50%" y="-50%" width="200%" height="200%"><feGaussianBlur stdDeviation="0.9"/></filter></defs><g filter="url(#hb)" transform="translate(-1.4,0.8)"><polygon points="84.3,275.7 83.5,284 83,292.8 85.2,298 86.5,303.3 89.2,306.8 94.4,308.6 94.9,306.8 91.8,304.6 90,299 88.7,292.8 88.7,287.5 89.6,281.4 89.2,276.1 87.4,275.3" fill="#e8e8e8" stroke="#d8d8d8" stroke-width="2.6" stroke-linejoin="round"/><polygon points="104.1,305.1 107.1,304.6 109.3,305.5 112.8,306.4 115.9,313.4 112,315.6 109.3,315.6 109.8,312.1 107.6,306.8 105,306.4" fill="#e8e8e8" stroke="#d8d8d8" stroke-width="2.6" stroke-linejoin="round"/><polygon points="84.9,328.1 87.5,327.2 91.9,326.8 96.3,329.7 98.8,331.3 100.1,334.4 103.3,336.6 105.8,336.9 109.6,336.9 113.4,338.8 115.9,343.9 118.1,347.7 117.1,348.9 113.4,347.7 110.8,345.8 108.3,342.6 106.4,338.8 103.3,339.5 100.7,342 98.2,339.5 95.7,335 91.9,330.6 87.5,329.7" fill="#e8e8e8" stroke="#d8d8d8" stroke-width="2.6" stroke-linejoin="round"/><polygon points="275,332.3 276.7,331.5 278.4,336.5 277.6,338.2 275.5,335.7" fill="#e8e8e8" stroke="#d8d8d8" stroke-width="2.6" stroke-linejoin="round"/><polygon points="279.3,328.9 281.8,325.6 282.6,329.8 281.8,334 280.1,331.5" fill="#e8e8e8" stroke="#d8d8d8" stroke-width="2.6" stroke-linejoin="round"/><polygon points="286,338.2 289.4,336.9 292.7,338.2 295.3,341.6 296.1,344.1 292.7,343.3 290.2,346.6 289.4,353.4 288.5,360.9 286.8,363.5 285.6,358.4 285.2,351.7 285.6,344.9 285.2,341.6" fill="#e8e8e8" stroke="#d8d8d8" stroke-width="2.6" stroke-linejoin="round"/><polygon points="299.5,346.6 302,347 305.4,350.8 309.6,354.2 311.2,347 316.3,345.8 320.5,344.1 323.9,342.8 328.1,346.6 330.6,349.1 324.7,349.1 320.5,351.7 317.1,350 315.5,353.4 315.5,360.1 312.9,359.2 308.7,355 303.7,353.4 300.3,350.8" fill="#e8e8e8" stroke="#d8d8d8" stroke-width="2.6" stroke-linejoin="round"/><polygon points="209,314 212.5,308.5 211,314.5" fill="#e8e8e8" stroke="#d8d8d8" stroke-width="2.6" stroke-linejoin="round"/><polygon points="305.5,235.5 311.5,232.5 312,234 306,236.5" fill="#e8e8e8" stroke="#d8d8d8" stroke-width="2.6" stroke-linejoin="round"/></g><g stroke-linejoin="round"><polygon points="84.3,275.7 83.5,284 83,292.8 85.2,298 86.5,303.3 89.2,306.8 94.4,308.6 94.9,306.8 91.8,304.6 90,299 88.7,292.8 88.7,287.5 89.6,281.4 89.2,276.1 87.4,275.3" fill="#ffff00" stroke="#ffff00" stroke-width="0.5"/><polygon points="104.1,305.1 107.1,304.6 109.3,305.5 112.8,306.4 115.9,313.4 112,315.6 109.3,315.6 109.8,312.1 107.6,306.8 105,306.4" fill="#ffff00" stroke="#ffff00" stroke-width="0.5"/><polygon points="84.9,328.1 87.5,327.2 91.9,326.8 96.3,329.7 98.8,331.3 100.1,334.4 103.3,336.6 105.8,336.9 109.6,336.9 113.4,338.8 115.9,343.9 118.1,347.7 117.1,348.9 113.4,347.7 110.8,345.8 108.3,342.6 106.4,338.8 103.3,339.5 100.7,342 98.2,339.5 95.7,335 91.9,330.6 87.5,329.7" fill="#ffff00" stroke="#ffff00" stroke-width="0.5"/><polygon points="240,277.4 242.6,278.4 248.4,284.7 248.9,291 252.6,296.3 255.3,303.7 260.5,304.7 261.6,310 266.8,312.1 270,318.4 272.1,323.7 270,325.8 267.4,322.6 265.8,316.3 261.6,314.2 257.4,310 255.3,304.7 251,300.5 248.9,295.3 245.8,290 241.6,287.9 236.3,284.7 238.4,280.5" fill="#ffff00" stroke="#ffff00" stroke-width="0.5"/><polygon points="275,332.3 276.7,331.5 278.4,336.5 277.6,338.2 275.5,335.7" fill="#ffff00" stroke="#ffff00" stroke-width="0.5"/><polygon points="279.3,328.9 281.8,325.6 282.6,329.8 281.8,334 280.1,331.5" fill="#ffff00" stroke="#ffff00" stroke-width="0.5"/><polygon points="286,338.2 289.4,336.9 292.7,338.2 295.3,341.6 296.1,344.1 292.7,343.3 290.2,346.6 289.4,353.4 288.5,360.9 286.8,363.5 285.6,358.4 285.2,351.7 285.6,344.9 285.2,341.6" fill="#ffff00" stroke="#ffff00" stroke-width="0.5"/><polygon points="299.5,346.6 302,347 305.4,350.8 309.6,354.2 311.2,347 316.3,345.8 320.5,344.1 323.9,342.8 328.1,346.6 330.6,349.1 324.7,349.1 320.5,351.7 317.1,350 315.5,353.4 315.5,360.1 312.9,359.2 308.7,355 303.7,353.4 300.3,350.8" fill="#ffff00" stroke="#ffff00" stroke-width="0.5"/><polygon points="209,314 212.5,308.5 211,314.5" fill="#ffff00" stroke="#ffff00" stroke-width="0.5"/><polygon points="305.5,235.5 311.5,232.5 312,234 306,236.5" fill="#ffff00" stroke="#ffff00" stroke-width="0.5"/><polygon points="240,259 242.5,259.8 242.2,261.8 240.2,261.2" fill="#ffff00" stroke="#ffff00" stroke-width="0.5"/><polygon points="239.5,266.3 242.5,264.5 242.6,265.6 240,266.9" fill="#ffff00" stroke="#ffff00" stroke-width="0.5"/><polygon points="249,253.2 252.8,252.2 252.5,254.2 249.5,254.8" fill="#ffff00" stroke="#ffff00" stroke-width="0.5"/><polyline points="114.7,315.3 107.7,318.3 99.5,322.4" fill="none" stroke="#ffff00" stroke-width="1.2"/><polygon points="240.5,281 243.5,281.5 246,285.5 244.5,288 240.5,285" fill="#fff" fill-opacity="0.85"/><polygon points="249.5,293 251.5,295 250.5,297 249,295" fill="#fff" fill-opacity="0.7"/></g>
<radialGradient id="fang" gradientUnits="userSpaceOnUse" cx="667.5" cy="261.5" r="60"><stop offset="0" stop-color="#ff1a00"/><stop offset="0.35" stop-color="#ff3800"/><stop offset="0.7" stop-color="#ff5a08"/><stop offset="1" stop-color="#ff7818"/></radialGradient><radialGradient id="redg" gradientUnits="userSpaceOnUse" cx="667.5" cy="261.5" r="30"><stop offset="0" stop-color="#ff2000" stop-opacity="0.8"/><stop offset="0.5" stop-color="#ff2800" stop-opacity="0.5"/><stop offset="1" stop-color="#ff3000" stop-opacity="0"/></radialGradient><polygon points="667.5,261.5 681.6,279.6 689.0,287.8 691.1,289.0 693.0,289.9 697.3,293.2 704.4,299.0 706.2,299.1 701.4,293.0 706.8,296.4 707.8,295.7 704.8,291.7 714.0,297.4 705.8,289.8 714.8,294.8 717.7,295.1 718.6,294.1 713.0,289.1 714.4,288.5 715.9,287.9 701.1,278.8 718.9,286.6 712.2,282.0 713.2,281.3 714.9,280.8 717.5,280.5 718.0,279.4 724.8,280.3 713.3,275.4 725.3,277.6 723.2,275.7 721.2,273.9 723.7,273.1 713.6,270.0 726.6,271.0 710.2,267.4 714.5,266.9 719.1,266.2 721.1,265.2 713.8,263.6 722.8,262.8 726.8,261.5 720.7,260.3 713.9,259.4 713.5,258.4 706.2,258.0 714.3,256.2 710.6,255.6 719.7,253.1 722.1,251.5 716.2,251.4 716.5,250.2 716.4,249.0 721.7,246.4 716.5,246.6 703.3,249.7 720.1,242.9 709.6,245.5 712.5,243.2 703.5,245.9 707.5,243.1 709.1,241.2 707.5,240.8 714.1,236.1 695.3,245.5 708.2,236.8 704.6,237.8 703.5,237.4 703.1,236.5 704.1,234.5 702.5,234.4 705.4,230.8 703.3,231.1 700.2,232.5 704.5,227.1 693.5,236.2 698.0,230.5 698.5,228.5 702.5,222.4 700.8,222.7 697.9,224.4 700.2,219.6 688.0,234.0 693.7,224.6 699.0,215.0 687.1,231.0 696.5,214.1 694.8,214.6 685.5,228.9 692.8,213.1 689.2,217.5 688.4,216.8 689.6,211.1 684.8,219.6 689.5,204.5 686.1,209.9 685.6,207.4 685.7,202.8 681.9,210.8 680.5,211.5 676.1,225.0 677.9,212.7 677.6,207.9 676.9,204.8 675.6,204.6 673.9,207.5 671.3,221.5 670.2,225.3 669.9,213.2 668.9,209.7 667.8,213.4 666.6,209.1 665.4,209.1 664.4,213.0 662.9,207.9 662.7,217.0 659.5,200.4 658.8,205.2 657.7,206.3 659.5,221.9 655.6,208.9 654.5,209.4 652.2,205.5 656.2,223.7 655.5,224.4 646.3,200.5 652.1,220.2 647.6,211.9 645.4,209.8 645.2,212.3 649.1,223.4 647.1,221.5 638.1,206.9 647.3,226.0 638.6,213.2 634.4,208.9 632.2,208.2 636.3,216.7 633.7,215.1 632.8,216.1 634.4,220.2 631.5,218.6 639.5,229.7 629.4,220.1 626.6,219.0 624.2,218.5 630.3,226.2" fill="url(#fang)" stroke="#ff7020" stroke-width="0.6" stroke-linejoin="miter"/><path d="M676.5 272.3L689.2 287.4L689.7 287.0L676.7 272.1Z" fill="#ff7a20" fill-opacity="0.44"/><path d="M675.0 269.0L694.5 288.7L695.5 287.7L675.2 268.7Z" fill="#ff7a20" fill-opacity="0.41"/><path d="M678.6 270.8L696.6 285.9L697.1 285.3L678.8 270.6Z" fill="#ff7a20" fill-opacity="0.23"/><path d="M678.7 269.1L691.8 278.0L692.1 277.5L678.8 268.9Z" fill="#ff9a30" fill-opacity="0.21"/><path d="M679.8 268.9L705.8 284.7L706.5 283.6L680.0 268.6Z" fill="#ff3a00" fill-opacity="0.44"/><path d="M682.8 269.6L703.2 280.4L703.9 279.1L683.1 269.0Z" fill="#ff9a30" fill-opacity="0.37"/><path d="M685.1 269.3L705.1 278.2L705.6 277.1L685.3 268.8Z" fill="#ff8a28" fill-opacity="0.45"/><path d="M680.5 266.2L699.7 273.1L699.9 272.5L680.6 265.9Z" fill="#ff4a08" fill-opacity="0.28"/><path d="M687.0 266.8L707.1 272.2L707.5 270.6L687.2 266.0Z" fill="#ff4a08" fill-opacity="0.35"/><path d="M680.5 263.3L712.2 267.7L712.3 266.5L680.5 262.9Z" fill="#ff7a20" fill-opacity="0.43"/><path d="M683.5 262.2L706.4 263.2L706.4 262.1L683.5 261.7Z" fill="#ff8a28" fill-opacity="0.25"/><path d="M688.8 260.6L711.1 259.7L711.0 258.4L688.7 260.0Z" fill="#ff7a20" fill-opacity="0.42"/><path d="M680.3 260.1L699.8 258.0L699.7 257.3L680.3 259.8Z" fill="#ff3a00" fill-opacity="0.48"/><path d="M686.1 257.6L712.0 252.1L711.7 250.8L686.0 257.0Z" fill="#ff4a08" fill-opacity="0.38"/><path d="M682.5 256.9L713.3 247.3L712.6 245.4L682.2 256.2Z" fill="#ff3a00" fill-opacity="0.34"/><path d="M678.1 257.1L699.7 248.2L699.4 247.6L678.1 256.9Z" fill="#ff8a28" fill-opacity="0.33"/><path d="M678.1 256.0L694.3 247.5L693.8 246.6L677.9 255.6Z" fill="#ff7a20" fill-opacity="0.21"/><path d="M683.8 250.3L704.0 236.4L703.6 235.8L683.6 250.1Z" fill="#ff9a30" fill-opacity="0.34"/><path d="M680.8 251.2L699.2 237.0L698.7 236.3L680.6 251.0Z" fill="#ff8a28" fill-opacity="0.46"/><path d="M674.4 255.4L690.8 241.0L690.4 240.6L674.3 255.3Z" fill="#ff9a30" fill-opacity="0.47"/><path d="M675.7 253.3L690.6 238.6L689.7 237.7L675.4 253.0Z" fill="#ff9a30" fill-opacity="0.24"/><path d="M673.9 254.0L685.1 240.9L684.3 240.1L673.6 253.7Z" fill="#ff3a00" fill-opacity="0.20"/><path d="M674.0 252.3L689.1 231.2L688.3 230.6L673.8 252.2Z" fill="#ff7a20" fill-opacity="0.42"/><path d="M675.8 247.6L685.0 232.0L684.5 231.7L675.5 247.5Z" fill="#ff9a30" fill-opacity="0.40"/><path d="M673.6 249.8L689.9 219.0L688.2 218.1L673.2 249.6Z" fill="#ff3a00" fill-opacity="0.40"/><path d="M674.6 244.6L684.4 221.1L683.3 220.7L674.1 244.4Z" fill="#ff3a00" fill-opacity="0.23"/><path d="M672.1 245.7L679.6 220.2L678.6 219.9L671.7 245.6Z" fill="#ff4a08" fill-opacity="0.35"/><path d="M672.2 241.6L678.3 215.8L677.2 215.6L671.7 241.5Z" fill="#ff8a28" fill-opacity="0.25"/><path d="M669.3 247.2L671.3 232.0L670.3 231.9L668.9 247.2Z" fill="#ff8a28" fill-opacity="0.48"/><path d="M667.9 249.6L668.6 224.8L667.4 224.7L667.5 249.6Z" fill="#ff8a28" fill-opacity="0.34"/><path d="M666.9 248.6L666.0 231.4L665.4 231.4L666.6 248.6Z" fill="#ff7a20" fill-opacity="0.36"/><path d="M665.8 249.1L662.5 225.8L661.6 225.9L665.5 249.2Z" fill="#ff8a28" fill-opacity="0.21"/><path d="M663.9 245.3L656.8 213.7L655.7 213.9L663.5 245.4Z" fill="#ff3a00" fill-opacity="0.48"/><path d="M664.0 249.9L658.0 230.5L656.9 230.9L663.5 250.0Z" fill="#ff9a30" fill-opacity="0.25"/><path d="M659.2 241.6L650.1 219.9L648.7 220.5L658.5 241.9Z" fill="#ff9a30" fill-opacity="0.26"/><path d="M657.3 241.3L645.0 217.1L643.9 217.7L656.8 241.6Z" fill="#ff8a28" fill-opacity="0.38"/><path d="M660.5 249.6L649.2 230.3L648.4 230.8L660.2 249.8Z" fill="#ff7a20" fill-opacity="0.25"/><path d="M656.9 247.1L644.5 230.2L643.7 230.8L656.5 247.4Z" fill="#ff4a08" fill-opacity="0.47"/><path d="M655.9 248.9L638.1 229.6L637.3 230.3L655.6 249.2Z" fill="#ff4a08" fill-opacity="0.49"/><polygon points="667.5,261.5 624.7,257.8 619.0,258.1 622.7,259.2 621.5,259.9 620.2,260.7 627.5,261.5 619.8,262.3 620.9,263.1 622.6,263.9 622.4,264.7 623.1,265.4 625.8,265.9 622.5,267.0 627.5,267.1 623.0,268.5 621.7,269.6 623.9,270.0 622.8,271.0 619.2,272.7 620.0,273.3 627.6,272.2 621.4,274.7 623.3,275.0 629.0,274.0 626.3,275.7 627.7,276.0 629.4,276.1 625.4,278.5 622.1,280.8 628.0,279.1 623.4,282.1" fill="#1230d0"/><polygon points="667.5,261.5 623.6,257.7 630.8,258.9 621.4,259.1 624.7,260.0 620.5,260.7 623.2,261.5 622.9,262.3 628.1,262.9 622.1,263.9 620.5,264.8 621.5,265.5 627.0,265.8 623.0,267.0 626.6,267.2 631.5,267.2" fill="#0a10a8" fill-opacity="0.8"/><line x1="661.9" y1="259.3" x2="624.8" y2="244.3" stroke="#0000a0" stroke-width="1.3" stroke-dasharray="2 2.5"/><polygon points="663.5,266 671.5,266.7 670.3,272.2 674.6,279.6 683.2,282 688.1,285.7 691.8,291.9 696.7,299.2 699.1,304.1 700.4,307.8 695.5,306.6 690.5,304.1 686.9,310.3 684.4,309.1 680.7,304.1 674.6,295.5 667.2,288.2 658.6,284.5 659.8,279.6 662.3,273.4" fill="#0818a8" stroke="#0818a8" stroke-width="1.5" stroke-linejoin="round"/><circle cx="667.5" cy="261.5" r="5.5" fill="#fff"/>
</svg><canvas id="dop" width="375" height="375" style="position:absolute;left:480px;top:74px"></canvas><script>(function(){
var c=document.getElementById('dop');if(!c||!c.getContext)return;
var ctx=c.getContext('2d'),W=375,H=375,cx=187.5,cy=187.5;
var seed=4242;function rnd(){seed|=0;seed=seed+0x6D2B79F5|0;var t=Math.imul(seed^seed>>>15,1|seed);t=t+Math.imul(t^t>>>7,61|t)^t;return((t^t>>>14)>>>0)/4294967296;}
var COL=['#d8ffff','#b8ffff','#a0ffff','#88ffff','#70ffff','#55eeff','#35ccff','#2ab0ff','#1a90ff','#0a80ff','#0870ff','#0860ff','#0030ff','#0010ff','#0000e8','#0000c0','#0000a0','#000080','#000050','#e80000','#ff1000','#ff3000','#ff4000','#ff5800','#ff7000','#ff8800','#ffa010','#ffb828','#ffbb30','#ffd040','#ffff50','#ffff60','#ffff70','#ffff90','#ffffa8','#ffffc0','#ffffd8','#ffffe8'];
var CR=COL.map(function(h){return[parseInt(h.substr(1,2),16),parseInt(h.substr(3,2),16),parseInt(h.substr(5,2),16)];});
function vcol(v){var k=Math.floor((v+9.5)/0.5);if(k<0)k=0;if(k>37)k=37;return CR[k];}
var prof=[[-52,34],[-48,50],[-40,57],[-20,56],[1,55],[18,54],[32,48],[45,48],[57,53],[76,58],[84,53],[99,59],[110,60],[127,61],[137,57]];
function Rat(t){for(var i=0;i+1<prof.length;i++){var a=prof[i],b=prof[i+1];if(t>=a[0]&&t<=b[0])return a[1]+(b[1]-a[1])*(t-a[0])/(b[0]-a[0]);}return 0;}
var NB=1440,RR=new Float32Array(NB),VO=new Float32Array(NB);
var i=0;while(i<NB){var w,f,vo;
 if(rnd()<0.45){w=2+Math.floor(rnd()*6);f=0.5+0.25*rnd();vo=(rnd()-0.5)*0.8;}
 else{w=8+Math.floor(rnd()*18);f=0.88+0.17*rnd();vo=(rnd()-0.4)*1.1;}
 for(var k=0;k<w&&i<NB;k++,i++){var ff=f*(0.97+0.06*rnd());RR[i]=ff;VO[i]=vo;}}
var BW=new Float32Array(NB);i=0;while(i<NB){var w=2+Math.floor(rnd()*6),f=0.8+0.3*rnd();for(var k=0;k<w&&i<NB;k++,i++){BW[i]=f;}}
var SP=[663.5,266,671.5,266.7,670.3,272.2,674.6,279.6,683.2,282,688.1,285.7,691.8,291.9,696.7,299.2,699.1,304.1,700.4,307.8,695.5,306.6,690.5,304.1,686.9,310.3,684.4,309.1,680.7,304.1,674.6,295.5,667.2,288.2,658.6,284.5,659.8,279.6,662.3,273.4];
function inS(px,py){var ins=false,n=SP.length/2;for(var a=0,b=n-1;a<n;b=a++){var xa=SP[2*a]-480,ya=SP[2*a+1]-74,xb=SP[2*b]-480,yb=SP[2*b+1]-74;if(((ya>py)!=(yb>py))&&(px<(xb-xa)*(py-ya)/(yb-ya)+xa))ins=!ins;}return ins;}
var img=ctx.createImageData(W,H),d=img.data;
for(var q=0;q<d.length;q+=4){d[q]=255;d[q+1]=255;d[q+2]=255;d[q+3]=255;}
for(var y=0;y<H;y++){for(var x=0;x<W;x++){
 var dx=x+0.5-cx,dy=cy-(y+0.5),r=Math.sqrt(dx*dx+dy*dy);if(r<5.5)continue;
 if(r>75){continue;}
 var th=Math.atan2(dy,dx)*180/Math.PI;var bi=Math.floor((th+180)/0.25)%NB;
 var v=null;
 if(th>=-52&&th<137){var R=Rat(th)*RR[bi];
  if(r<R){ if(r>0.88*R&&rnd()<0.3){}else{v=0.5+2.2*(r/60)+VO[bi]+(rnd()-0.5)*0.7;if(v<0.2)v=0.2;if(th>132.5&&r>10&&rnd()<0.6)v=-0.8;}}}
 else if((th<0?th+360:th)>=182&&(th<0?th+360:th)<205.5){var t3=(th<0?th+360:th);var R=47*BW[bi];
  if(r<R){ if(r>0.8*R&&rnd()<0.08){}else{ v=-2.0-1.3*(r/45)+(rnd()-0.5)*1.0; if(t3<186)v+=0.9;}}}
 if(v===null&&inS(x+0.5,y+0.5)){v=-0.8-rnd()*2.4;}
 if(v!==null){var cc=vcol(v);var j=(y*W+x)*4;d[j]=cc[0];d[j+1]=cc[1];d[j+2]=cc[2];d[j+3]=255;}
}}
ctx.putImageData(img,0,0);
})();
</script>
<svg width="870" height="570" viewBox="0 0 870 570" style="position:absolute;left:0;top:0">
<g stroke-linejoin="round" transform="translate(421,0)"><polygon points="84.3,275.7 83.5,284 83,292.8 85.2,298 86.5,303.3 89.2,306.8 94.4,308.6 94.9,306.8 91.8,304.6 90,299 88.7,292.8 88.7,287.5 89.6,281.4 89.2,276.1 87.4,275.3" fill="#ff0000" transform="translate(2.4,-0.6)"/><polygon points="104.1,305.1 107.1,304.6 109.3,305.5 112.8,306.4 115.9,313.4 112,315.6 109.3,315.6 109.8,312.1 107.6,306.8 105,306.4" fill="#ff0000" transform="translate(2.4,-0.6)"/><polygon points="84.9,328.1 87.5,327.2 91.9,326.8 96.3,329.7 98.8,331.3 100.1,334.4 103.3,336.6 105.8,336.9 109.6,336.9 113.4,338.8 115.9,343.9 118.1,347.7 117.1,348.9 113.4,347.7 110.8,345.8 108.3,342.6 106.4,338.8 103.3,339.5 100.7,342 98.2,339.5 95.7,335 91.9,330.6 87.5,329.7" fill="#ff0000" transform="translate(2.4,-0.6)"/><polygon points="275,332.3 276.7,331.5 278.4,336.5 277.6,338.2 275.5,335.7" fill="#ff0000" transform="translate(2.4,-0.6)"/><polygon points="279.3,328.9 281.8,325.6 282.6,329.8 281.8,334 280.1,331.5" fill="#ff0000" transform="translate(2.4,-0.6)"/><polygon points="286,338.2 289.4,336.9 292.7,338.2 295.3,341.6 296.1,344.1 292.7,343.3 290.2,346.6 289.4,353.4 288.5,360.9 286.8,363.5 285.6,358.4 285.2,351.7 285.6,344.9 285.2,341.6" fill="#ff0000" transform="translate(2.4,-0.6)"/><polygon points="299.5,346.6 302,347 305.4,350.8 309.6,354.2 311.2,347 316.3,345.8 320.5,344.1 323.9,342.8 328.1,346.6 330.6,349.1 324.7,349.1 320.5,351.7 317.1,350 315.5,353.4 315.5,360.1 312.9,359.2 308.7,355 303.7,353.4 300.3,350.8" fill="#ff0000" transform="translate(2.4,-0.6)"/><polygon points="209,314 212.5,308.5 211,314.5" fill="#ff0000" transform="translate(2.4,-0.6)"/><polygon points="84.3,275.7 83.5,284 83,292.8 85.2,298 86.5,303.3 89.2,306.8 94.4,308.6 94.9,306.8 91.8,304.6 90,299 88.7,292.8 88.7,287.5 89.6,281.4 89.2,276.1 87.4,275.3" fill="#000060" transform="translate(-0.6,0.2)"/><polygon points="104.1,305.1 107.1,304.6 109.3,305.5 112.8,306.4 115.9,313.4 112,315.6 109.3,315.6 109.8,312.1 107.6,306.8 105,306.4" fill="#000060" transform="translate(-0.6,0.2)"/><polygon points="84.9,328.1 87.5,327.2 91.9,326.8 96.3,329.7 98.8,331.3 100.1,334.4 103.3,336.6 105.8,336.9 109.6,336.9 113.4,338.8 115.9,343.9 118.1,347.7 117.1,348.9 113.4,347.7 110.8,345.8 108.3,342.6 106.4,338.8 103.3,339.5 100.7,342 98.2,339.5 95.7,335 91.9,330.6 87.5,329.7" fill="#000060" transform="translate(-0.6,0.2)"/><polygon points="240,277.4 242.6,278.4 248.4,284.7 248.9,291 252.6,296.3 255.3,303.7 260.5,304.7 261.6,310 266.8,312.1 270,318.4 272.1,323.7 270,325.8 267.4,322.6 265.8,316.3 261.6,314.2 257.4,310 255.3,304.7 251,300.5 248.9,295.3 245.8,290 241.6,287.9 236.3,284.7 238.4,280.5" fill="#000060" transform="translate(-0.6,0.2)"/><polygon points="275,332.3 276.7,331.5 278.4,336.5 277.6,338.2 275.5,335.7" fill="#000060" transform="translate(-0.6,0.2)"/><polygon points="279.3,328.9 281.8,325.6 282.6,329.8 281.8,334 280.1,331.5" fill="#000060" transform="translate(-0.6,0.2)"/><polygon points="286,338.2 289.4,336.9 292.7,338.2 295.3,341.6 296.1,344.1 292.7,343.3 290.2,346.6 289.4,353.4 288.5,360.9 286.8,363.5 285.6,358.4 285.2,351.7 285.6,344.9 285.2,341.6" fill="#000060" transform="translate(-0.6,0.2)"/><polygon points="299.5,346.6 302,347 305.4,350.8 309.6,354.2 311.2,347 316.3,345.8 320.5,344.1 323.9,342.8 328.1,346.6 330.6,349.1 324.7,349.1 320.5,351.7 317.1,350 315.5,353.4 315.5,360.1 312.9,359.2 308.7,355 303.7,353.4 300.3,350.8" fill="#000060" transform="translate(-0.6,0.2)"/><polygon points="209,314 212.5,308.5 211,314.5" fill="#000060" transform="translate(-0.6,0.2)"/><polyline points="241,280 246,286.5 250.5,294 254,301.5 259,307.5 264,312.5 268.5,318 270.5,323.5" fill="none" stroke="#ff0000" stroke-width="1.6" stroke-dasharray="7 2 5 3"/><line x1="114.7" y1="315.3" x2="99" y2="322.3" stroke="#0000a0" stroke-width="1" stroke-dasharray="2 2"/></g><line x1="661.0" y1="258.9" x2="624.8" y2="244.3" stroke="#0000a0" stroke-width="1" stroke-dasharray="1.6 2.6"/>
<g fill="none" stroke="#000" stroke-width="1.5" stroke-linejoin="round" stroke-linecap="round"><polyline points="481.1,179.2 489.5,179.2 492.2,177.6 494.3,173.4 496.4,173.2 503.2,176.6 509.0,181.1 515.8,179.2 525.3,175.5 535.8,169.7 548.0,161.8 549.0,154.5 551.6,153.4 551.6,149.7 554.3,147.1 551.6,143.9 549.0,143.9 548.5,146.0 545.8,141.8 549.0,139.7 550.6,135.5 553.2,134.5 559.0,134.0 574.5,133.2 575.1,146.4 579.1,145.5 583.2,146.2 584.9,140.1 582.6,138.4 583.7,134.4 586.6,134.4 588.9,131.5 590.6,133.2 594.1,136.1 599.3,136.1 606.7,139.3 611.9,137.2 617.1,137.8 624.0,139.5 626.3,142.4 629.7,143.2 634.3,141.3 640.1,141.8 644.7,137.8 647.0,136.1 649.3,137.8 652.7,136.7 655.7,132.6 659.2,135.7 663.2,132.2 664.9,130.9 663.2,128.7 668.4,125.6 671.1,126.9 676.3,123.0 675.4,126.9 678.5,128.2 680.7,126.5 680.7,123.4 683.3,123.0 684.2,116.4 692.1,116.8 692.5,121.2 697.8,122.1 700.9,122.5 703.1,132.2 704.4,137.9 699.1,138.3 696.5,136.6 695.6,137.9 698.7,145.4 705.7,143.2 704.8,140.1 707.0,140.5 710.5,144.9 715.4,142.7 713.6,137.9 715.8,136.6 717.5,140.5 720.2,139.6 726.0,136.9 723.9,129.8 716.8,131.9 708.4,129.1 714.7,125.6 708.4,110.2 719.6,104.6 730.2,123.5 733.7,122.8 733.7,126.3 728.8,129.1 730.2,132.6 740.0,127.7 737.2,120.7 735.8,116.5 738.6,117.9 740.0,120.7 745.6,116.5 744.2,113.7 742.1,114.4 733.0,102.5 738.6,96.2 753.3,107.4 758.9,101.8 756.1,99.0 753.3,101.8 741.4,89.8 744.9,81.4 751.2,78.6 771.6,84.9 773.0,75.1"/><polyline points="519.7,74.9 517.5,77.8 514.0,81.3 512.3,84.4 513.2,88.8 513.2,94.0 512.7,96.2 515.4,97.6 517.1,101.1 519.7,106.3 522.8,110.7 526.3,111.2 529.4,111.6 532.9,108.5 535.5,109.0 538.6,107.2 542.1,106.3 543.9,102.0 543.4,99.3 549.1,97.1 550.0,94.0 552.6,90.5 555.3,89.7 553.5,86.2 554.8,82.2 553.1,78.3 553.1,75.2"/><polyline points="508.3,85.3 509.5,84.3" stroke-width="2"/><polyline points="669.3,114.6 671.0,117.3" stroke-width="2"/><polyline points="768.8,75.8 770.9,79.3" stroke-width="2"/><polyline points="659.6,130.9 664.9,130.9" stroke-width="2"/></g>
<line x1="59.00" y1="74" x2="59.00" y2="59" stroke="#000" stroke-width="2"/><line x1="59.00" y1="449" x2="59.00" y2="464" stroke="#000" stroke-width="2"/><line x1="59" y1="74.00" x2="44" y2="74.00" stroke="#000" stroke-width="2"/><line x1="434" y1="74.00" x2="449" y2="74.00" stroke="#000" stroke-width="2"/><line x1="70.72" y1="74" x2="70.72" y2="67" stroke="#000" stroke-width="1.2"/><line x1="70.72" y1="449" x2="70.72" y2="456" stroke="#000" stroke-width="1.2"/><line x1="59" y1="85.72" x2="52" y2="85.72" stroke="#000" stroke-width="1.2"/><line x1="434" y1="85.72" x2="441" y2="85.72" stroke="#000" stroke-width="1.2"/><line x1="82.44" y1="74" x2="82.44" y2="67" stroke="#000" stroke-width="1.2"/><line x1="82.44" y1="449" x2="82.44" y2="456" stroke="#000" stroke-width="1.2"/><line x1="59" y1="97.44" x2="52" y2="97.44" stroke="#000" stroke-width="1.2"/><line x1="434" y1="97.44" x2="441" y2="97.44" stroke="#000" stroke-width="1.2"/><line x1="94.16" y1="74" x2="94.16" y2="67" stroke="#000" stroke-width="1.2"/><line x1="94.16" y1="449" x2="94.16" y2="456" stroke="#000" stroke-width="1.2"/><line x1="59" y1="109.16" x2="52" y2="109.16" stroke="#000" stroke-width="1.2"/><line x1="434" y1="109.16" x2="441" y2="109.16" stroke="#000" stroke-width="1.2"/><line x1="105.88" y1="74" x2="105.88" y2="67" stroke="#000" stroke-width="1.2"/><line x1="105.88" y1="449" x2="105.88" y2="456" stroke="#000" stroke-width="1.2"/><line x1="59" y1="120.88" x2="52" y2="120.88" stroke="#000" stroke-width="1.2"/><line x1="434" y1="120.88" x2="441" y2="120.88" stroke="#000" stroke-width="1.2"/><line x1="117.59" y1="74" x2="117.59" y2="67" stroke="#000" stroke-width="1.2"/><line x1="117.59" y1="449" x2="117.59" y2="456" stroke="#000" stroke-width="1.2"/><line x1="59" y1="132.59" x2="52" y2="132.59" stroke="#000" stroke-width="1.2"/><line x1="434" y1="132.59" x2="441" y2="132.59" stroke="#000" stroke-width="1.2"/><line x1="129.31" y1="74" x2="129.31" y2="67" stroke="#000" stroke-width="1.2"/><line x1="129.31" y1="449" x2="129.31" y2="456" stroke="#000" stroke-width="1.2"/><line x1="59" y1="144.31" x2="52" y2="144.31" stroke="#000" stroke-width="1.2"/><line x1="434" y1="144.31" x2="441" y2="144.31" stroke="#000" stroke-width="1.2"/><line x1="141.03" y1="74" x2="141.03" y2="67" stroke="#000" stroke-width="1.2"/><line x1="141.03" y1="449" x2="141.03" y2="456" stroke="#000" stroke-width="1.2"/><line x1="59" y1="156.03" x2="52" y2="156.03" stroke="#000" stroke-width="1.2"/><line x1="434" y1="156.03" x2="441" y2="156.03" stroke="#000" stroke-width="1.2"/><line x1="152.75" y1="74" x2="152.75" y2="59" stroke="#000" stroke-width="2"/><line x1="152.75" y1="449" x2="152.75" y2="464" stroke="#000" stroke-width="2"/><line x1="59" y1="167.75" x2="44" y2="167.75" stroke="#000" stroke-width="2"/><line x1="434" y1="167.75" x2="449" y2="167.75" stroke="#000" stroke-width="2"/><line x1="164.47" y1="74" x2="164.47" y2="67" stroke="#000" stroke-width="1.2"/><line x1="164.47" y1="449" x2="164.47" y2="456" stroke="#000" stroke-width="1.2"/><line x1="59" y1="179.47" x2="52" y2="179.47" stroke="#000" stroke-width="1.2"/><line x1="434" y1="179.47" x2="441" y2="179.47" stroke="#000" stroke-width="1.2"/><line x1="176.19" y1="74" x2="176.19" y2="67" stroke="#000" stroke-width="1.2"/><line x1="176.19" y1="449" x2="176.19" y2="456" stroke="#000" stroke-width="1.2"/><line x1="59" y1="191.19" x2="52" y2="191.19" stroke="#000" stroke-width="1.2"/><line x1="434" y1="191.19" x2="441" y2="191.19" stroke="#000" stroke-width="1.2"/><line x1="187.91" y1="74" x2="187.91" y2="67" stroke="#000" stroke-width="1.2"/><line x1="187.91" y1="449" x2="187.91" y2="456" stroke="#000" stroke-width="1.2"/><line x1="59" y1="202.91" x2="52" y2="202.91" stroke="#000" stroke-width="1.2"/><line x1="434" y1="202.91" x2="441" y2="202.91" stroke="#000" stroke-width="1.2"/><line x1="199.62" y1="74" x2="199.62" y2="67" stroke="#000" stroke-width="1.2"/><line x1="199.62" y1="449" x2="199.62" y2="456" stroke="#000" stroke-width="1.2"/><line x1="59" y1="214.62" x2="52" y2="214.62" stroke="#000" stroke-width="1.2"/><line x1="434" y1="214.62" x2="441" y2="214.62" stroke="#000" stroke-width="1.2"/><line x1="211.34" y1="74" x2="211.34" y2="67" stroke="#000" stroke-width="1.2"/><line x1="211.34" y1="449" x2="211.34" y2="456" stroke="#000" stroke-width="1.2"/><line x1="59" y1="226.34" x2="52" y2="226.34" stroke="#000" stroke-width="1.2"/><line x1="434" y1="226.34" x2="441" y2="226.34" stroke="#000" stroke-width="1.2"/><line x1="223.06" y1="74" x2="223.06" y2="67" stroke="#000" stroke-width="1.2"/><line x1="223.06" y1="449" x2="223.06" y2="456" stroke="#000" stroke-width="1.2"/><line x1="59" y1="238.06" x2="52" y2="238.06" stroke="#000" stroke-width="1.2"/><line x1="434" y1="238.06" x2="441" y2="238.06" stroke="#000" stroke-width="1.2"/><line x1="234.78" y1="74" x2="234.78" y2="67" stroke="#000" stroke-width="1.2"/><line x1="234.78" y1="449" x2="234.78" y2="456" stroke="#000" stroke-width="1.2"/><line x1="59" y1="249.78" x2="52" y2="249.78" stroke="#000" stroke-width="1.2"/><line x1="434" y1="249.78" x2="441" y2="249.78" stroke="#000" stroke-width="1.2"/><line x1="246.50" y1="74" x2="246.50" y2="59" stroke="#000" stroke-width="2"/><line x1="246.50" y1="449" x2="246.50" y2="464" stroke="#000" stroke-width="2"/><line x1="59" y1="261.50" x2="44" y2="261.50" stroke="#000" stroke-width="2"/><line x1="434" y1="261.50" x2="449" y2="261.50" stroke="#000" stroke-width="2"/><line x1="258.22" y1="74" x2="258.22" y2="67" stroke="#000" stroke-width="1.2"/><line x1="258.22" y1="449" x2="258.22" y2="456" stroke="#000" stroke-width="1.2"/><line x1="59" y1="273.22" x2="52" y2="273.22" stroke="#000" stroke-width="1.2"/><line x1="434" y1="273.22" x2="441" y2="273.22" stroke="#000" stroke-width="1.2"/><line x1="269.94" y1="74" x2="269.94" y2="67" stroke="#000" stroke-width="1.2"/><line x1="269.94" y1="449" x2="269.94" y2="456" stroke="#000" stroke-width="1.2"/><line x1="59" y1="284.94" x2="52" y2="284.94" stroke="#000" stroke-width="1.2"/><line x1="434" y1="284.94" x2="441" y2="284.94" stroke="#000" stroke-width="1.2"/><line x1="281.66" y1="74" x2="281.66" y2="67" stroke="#000" stroke-width="1.2"/><line x1="281.66" y1="449" x2="281.66" y2="456" stroke="#000" stroke-width="1.2"/><line x1="59" y1="296.66" x2="52" y2="296.66" stroke="#000" stroke-width="1.2"/><line x1="434" y1="296.66" x2="441" y2="296.66" stroke="#000" stroke-width="1.2"/><line x1="293.38" y1="74" x2="293.38" y2="67" stroke="#000" stroke-width="1.2"/><line x1="293.38" y1="449" x2="293.38" y2="456" stroke="#000" stroke-width="1.2"/><line x1="59" y1="308.38" x2="52" y2="308.38" stroke="#000" stroke-width="1.2"/><line x1="434" y1="308.38" x2="441" y2="308.38" stroke="#000" stroke-width="1.2"/><line x1="305.09" y1="74" x2="305.09" y2="67" stroke="#000" stroke-width="1.2"/><line x1="305.09" y1="449" x2="305.09" y2="456" stroke="#000" stroke-width="1.2"/><line x1="59" y1="320.09" x2="52" y2="320.09" stroke="#000" stroke-width="1.2"/><line x1="434" y1="320.09" x2="441" y2="320.09" stroke="#000" stroke-width="1.2"/><line x1="316.81" y1="74" x2="316.81" y2="67" stroke="#000" stroke-width="1.2"/><line x1="316.81" y1="449" x2="316.81" y2="456" stroke="#000" stroke-width="1.2"/><line x1="59" y1="331.81" x2="52" y2="331.81" stroke="#000" stroke-width="1.2"/><line x1="434" y1="331.81" x2="441" y2="331.81" stroke="#000" stroke-width="1.2"/><line x1="328.53" y1="74" x2="328.53" y2="67" stroke="#000" stroke-width="1.2"/><line x1="328.53" y1="449" x2="328.53" y2="456" stroke="#000" stroke-width="1.2"/><line x1="59" y1="343.53" x2="52" y2="343.53" stroke="#000" stroke-width="1.2"/><line x1="434" y1="343.53" x2="441" y2="343.53" stroke="#000" stroke-width="1.2"/><line x1="340.25" y1="74" x2="340.25" y2="59" stroke="#000" stroke-width="2"/><line x1="340.25" y1="449" x2="340.25" y2="464" stroke="#000" stroke-width="2"/><line x1="59" y1="355.25" x2="44" y2="355.25" stroke="#000" stroke-width="2"/><line x1="434" y1="355.25" x2="449" y2="355.25" stroke="#000" stroke-width="2"/><line x1="351.97" y1="74" x2="351.97" y2="67" stroke="#000" stroke-width="1.2"/><line x1="351.97" y1="449" x2="351.97" y2="456" stroke="#000" stroke-width="1.2"/><line x1="59" y1="366.97" x2="52" y2="366.97" stroke="#000" stroke-width="1.2"/><line x1="434" y1="366.97" x2="441" y2="366.97" stroke="#000" stroke-width="1.2"/><line x1="363.69" y1="74" x2="363.69" y2="67" stroke="#000" stroke-width="1.2"/><line x1="363.69" y1="449" x2="363.69" y2="456" stroke="#000" stroke-width="1.2"/><line x1="59" y1="378.69" x2="52" y2="378.69" stroke="#000" stroke-width="1.2"/><line x1="434" y1="378.69" x2="441" y2="378.69" stroke="#000" stroke-width="1.2"/><line x1="375.41" y1="74" x2="375.41" y2="67" stroke="#000" stroke-width="1.2"/><line x1="375.41" y1="449" x2="375.41" y2="456" stroke="#000" stroke-width="1.2"/><line x1="59" y1="390.41" x2="52" y2="390.41" stroke="#000" stroke-width="1.2"/><line x1="434" y1="390.41" x2="441" y2="390.41" stroke="#000" stroke-width="1.2"/><line x1="387.12" y1="74" x2="387.12" y2="67" stroke="#000" stroke-width="1.2"/><line x1="387.12" y1="449" x2="387.12" y2="456" stroke="#000" stroke-width="1.2"/><line x1="59" y1="402.12" x2="52" y2="402.12" stroke="#000" stroke-width="1.2"/><line x1="434" y1="402.12" x2="441" y2="402.12" stroke="#000" stroke-width="1.2"/><line x1="398.84" y1="74" x2="398.84" y2="67" stroke="#000" stroke-width="1.2"/><line x1="398.84" y1="449" x2="398.84" y2="456" stroke="#000" stroke-width="1.2"/><line x1="59" y1="413.84" x2="52" y2="413.84" stroke="#000" stroke-width="1.2"/><line x1="434" y1="413.84" x2="441" y2="413.84" stroke="#000" stroke-width="1.2"/><line x1="410.56" y1="74" x2="410.56" y2="67" stroke="#000" stroke-width="1.2"/><line x1="410.56" y1="449" x2="410.56" y2="456" stroke="#000" stroke-width="1.2"/><line x1="59" y1="425.56" x2="52" y2="425.56" stroke="#000" stroke-width="1.2"/><line x1="434" y1="425.56" x2="441" y2="425.56" stroke="#000" stroke-width="1.2"/><line x1="422.28" y1="74" x2="422.28" y2="67" stroke="#000" stroke-width="1.2"/><line x1="422.28" y1="449" x2="422.28" y2="456" stroke="#000" stroke-width="1.2"/><line x1="59" y1="437.28" x2="52" y2="437.28" stroke="#000" stroke-width="1.2"/><line x1="434" y1="437.28" x2="441" y2="437.28" stroke="#000" stroke-width="1.2"/><line x1="434.00" y1="74" x2="434.00" y2="59" stroke="#000" stroke-width="2"/><line x1="434.00" y1="449" x2="434.00" y2="464" stroke="#000" stroke-width="2"/><line x1="59" y1="449.00" x2="44" y2="449.00" stroke="#000" stroke-width="2"/><line x1="434" y1="449.00" x2="449" y2="449.00" stroke="#000" stroke-width="2"/><rect x="59" y="74" width="375" height="375" fill="none" stroke="#000" stroke-width="2"/>
<line x1="480.00" y1="74" x2="480.00" y2="59" stroke="#000" stroke-width="2"/><line x1="480.00" y1="449" x2="480.00" y2="464" stroke="#000" stroke-width="2"/><line x1="480" y1="74.00" x2="465" y2="74.00" stroke="#000" stroke-width="2"/><line x1="855" y1="74.00" x2="870" y2="74.00" stroke="#000" stroke-width="2"/><line x1="491.72" y1="74" x2="491.72" y2="67" stroke="#000" stroke-width="1.2"/><line x1="491.72" y1="449" x2="491.72" y2="456" stroke="#000" stroke-width="1.2"/><line x1="480" y1="85.72" x2="473" y2="85.72" stroke="#000" stroke-width="1.2"/><line x1="855" y1="85.72" x2="862" y2="85.72" stroke="#000" stroke-width="1.2"/><line x1="503.44" y1="74" x2="503.44" y2="67" stroke="#000" stroke-width="1.2"/><line x1="503.44" y1="449" x2="503.44" y2="456" stroke="#000" stroke-width="1.2"/><line x1="480" y1="97.44" x2="473" y2="97.44" stroke="#000" stroke-width="1.2"/><line x1="855" y1="97.44" x2="862" y2="97.44" stroke="#000" stroke-width="1.2"/><line x1="515.16" y1="74" x2="515.16" y2="67" stroke="#000" stroke-width="1.2"/><line x1="515.16" y1="449" x2="515.16" y2="456" stroke="#000" stroke-width="1.2"/><line x1="480" y1="109.16" x2="473" y2="109.16" stroke="#000" stroke-width="1.2"/><line x1="855" y1="109.16" x2="862" y2="109.16" stroke="#000" stroke-width="1.2"/><line x1="526.88" y1="74" x2="526.88" y2="67" stroke="#000" stroke-width="1.2"/><line x1="526.88" y1="449" x2="526.88" y2="456" stroke="#000" stroke-width="1.2"/><line x1="480" y1="120.88" x2="473" y2="120.88" stroke="#000" stroke-width="1.2"/><line x1="855" y1="120.88" x2="862" y2="120.88" stroke="#000" stroke-width="1.2"/><line x1="538.59" y1="74" x2="538.59" y2="67" stroke="#000" stroke-width="1.2"/><line x1="538.59" y1="449" x2="538.59" y2="456" stroke="#000" stroke-width="1.2"/><line x1="480" y1="132.59" x2="473" y2="132.59" stroke="#000" stroke-width="1.2"/><line x1="855" y1="132.59" x2="862" y2="132.59" stroke="#000" stroke-width="1.2"/><line x1="550.31" y1="74" x2="550.31" y2="67" stroke="#000" stroke-width="1.2"/><line x1="550.31" y1="449" x2="550.31" y2="456" stroke="#000" stroke-width="1.2"/><line x1="480" y1="144.31" x2="473" y2="144.31" stroke="#000" stroke-width="1.2"/><line x1="855" y1="144.31" x2="862" y2="144.31" stroke="#000" stroke-width="1.2"/><line x1="562.03" y1="74" x2="562.03" y2="67" stroke="#000" stroke-width="1.2"/><line x1="562.03" y1="449" x2="562.03" y2="456" stroke="#000" stroke-width="1.2"/><line x1="480" y1="156.03" x2="473" y2="156.03" stroke="#000" stroke-width="1.2"/><line x1="855" y1="156.03" x2="862" y2="156.03" stroke="#000" stroke-width="1.2"/><line x1="573.75" y1="74" x2="573.75" y2="59" stroke="#000" stroke-width="2"/><line x1="573.75" y1="449" x2="573.75" y2="464" stroke="#000" stroke-width="2"/><line x1="480" y1="167.75" x2="465" y2="167.75" stroke="#000" stroke-width="2"/><line x1="855" y1="167.75" x2="870" y2="167.75" stroke="#000" stroke-width="2"/><line x1="585.47" y1="74" x2="585.47" y2="67" stroke="#000" stroke-width="1.2"/><line x1="585.47" y1="449" x2="585.47" y2="456" stroke="#000" stroke-width="1.2"/><line x1="480" y1="179.47" x2="473" y2="179.47" stroke="#000" stroke-width="1.2"/><line x1="855" y1="179.47" x2="862" y2="179.47" stroke="#000" stroke-width="1.2"/><line x1="597.19" y1="74" x2="597.19" y2="67" stroke="#000" stroke-width="1.2"/><line x1="597.19" y1="449" x2="597.19" y2="456" stroke="#000" stroke-width="1.2"/><line x1="480" y1="191.19" x2="473" y2="191.19" stroke="#000" stroke-width="1.2"/><line x1="855" y1="191.19" x2="862" y2="191.19" stroke="#000" stroke-width="1.2"/><line x1="608.91" y1="74" x2="608.91" y2="67" stroke="#000" stroke-width="1.2"/><line x1="608.91" y1="449" x2="608.91" y2="456" stroke="#000" stroke-width="1.2"/><line x1="480" y1="202.91" x2="473" y2="202.91" stroke="#000" stroke-width="1.2"/><line x1="855" y1="202.91" x2="862" y2="202.91" stroke="#000" stroke-width="1.2"/><line x1="620.62" y1="74" x2="620.62" y2="67" stroke="#000" stroke-width="1.2"/><line x1="620.62" y1="449" x2="620.62" y2="456" stroke="#000" stroke-width="1.2"/><line x1="480" y1="214.62" x2="473" y2="214.62" stroke="#000" stroke-width="1.2"/><line x1="855" y1="214.62" x2="862" y2="214.62" stroke="#000" stroke-width="1.2"/><line x1="632.34" y1="74" x2="632.34" y2="67" stroke="#000" stroke-width="1.2"/><line x1="632.34" y1="449" x2="632.34" y2="456" stroke="#000" stroke-width="1.2"/><line x1="480" y1="226.34" x2="473" y2="226.34" stroke="#000" stroke-width="1.2"/><line x1="855" y1="226.34" x2="862" y2="226.34" stroke="#000" stroke-width="1.2"/><line x1="644.06" y1="74" x2="644.06" y2="67" stroke="#000" stroke-width="1.2"/><line x1="644.06" y1="449" x2="644.06" y2="456" stroke="#000" stroke-width="1.2"/><line x1="480" y1="238.06" x2="473" y2="238.06" stroke="#000" stroke-width="1.2"/><line x1="855" y1="238.06" x2="862" y2="238.06" stroke="#000" stroke-width="1.2"/><line x1="655.78" y1="74" x2="655.78" y2="67" stroke="#000" stroke-width="1.2"/><line x1="655.78" y1="449" x2="655.78" y2="456" stroke="#000" stroke-width="1.2"/><line x1="480" y1="249.78" x2="473" y2="249.78" stroke="#000" stroke-width="1.2"/><line x1="855" y1="249.78" x2="862" y2="249.78" stroke="#000" stroke-width="1.2"/><line x1="667.50" y1="74" x2="667.50" y2="59" stroke="#000" stroke-width="2"/><line x1="667.50" y1="449" x2="667.50" y2="464" stroke="#000" stroke-width="2"/><line x1="480" y1="261.50" x2="465" y2="261.50" stroke="#000" stroke-width="2"/><line x1="855" y1="261.50" x2="870" y2="261.50" stroke="#000" stroke-width="2"/><line x1="679.22" y1="74" x2="679.22" y2="67" stroke="#000" stroke-width="1.2"/><line x1="679.22" y1="449" x2="679.22" y2="456" stroke="#000" stroke-width="1.2"/><line x1="480" y1="273.22" x2="473" y2="273.22" stroke="#000" stroke-width="1.2"/><line x1="855" y1="273.22" x2="862" y2="273.22" stroke="#000" stroke-width="1.2"/><line x1="690.94" y1="74" x2="690.94" y2="67" stroke="#000" stroke-width="1.2"/><line x1="690.94" y1="449" x2="690.94" y2="456" stroke="#000" stroke-width="1.2"/><line x1="480" y1="284.94" x2="473" y2="284.94" stroke="#000" stroke-width="1.2"/><line x1="855" y1="284.94" x2="862" y2="284.94" stroke="#000" stroke-width="1.2"/><line x1="702.66" y1="74" x2="702.66" y2="67" stroke="#000" stroke-width="1.2"/><line x1="702.66" y1="449" x2="702.66" y2="456" stroke="#000" stroke-width="1.2"/><line x1="480" y1="296.66" x2="473" y2="296.66" stroke="#000" stroke-width="1.2"/><line x1="855" y1="296.66" x2="862" y2="296.66" stroke="#000" stroke-width="1.2"/><line x1="714.38" y1="74" x2="714.38" y2="67" stroke="#000" stroke-width="1.2"/><line x1="714.38" y1="449" x2="714.38" y2="456" stroke="#000" stroke-width="1.2"/><line x1="480" y1="308.38" x2="473" y2="308.38" stroke="#000" stroke-width="1.2"/><line x1="855" y1="308.38" x2="862" y2="308.38" stroke="#000" stroke-width="1.2"/><line x1="726.09" y1="74" x2="726.09" y2="67" stroke="#000" stroke-width="1.2"/><line x1="726.09" y1="449" x2="726.09" y2="456" stroke="#000" stroke-width="1.2"/><line x1="480" y1="320.09" x2="473" y2="320.09" stroke="#000" stroke-width="1.2"/><line x1="855" y1="320.09" x2="862" y2="320.09" stroke="#000" stroke-width="1.2"/><line x1="737.81" y1="74" x2="737.81" y2="67" stroke="#000" stroke-width="1.2"/><line x1="737.81" y1="449" x2="737.81" y2="456" stroke="#000" stroke-width="1.2"/><line x1="480" y1="331.81" x2="473" y2="331.81" stroke="#000" stroke-width="1.2"/><line x1="855" y1="331.81" x2="862" y2="331.81" stroke="#000" stroke-width="1.2"/><line x1="749.53" y1="74" x2="749.53" y2="67" stroke="#000" stroke-width="1.2"/><line x1="749.53" y1="449" x2="749.53" y2="456" stroke="#000" stroke-width="1.2"/><line x1="480" y1="343.53" x2="473" y2="343.53" stroke="#000" stroke-width="1.2"/><line x1="855" y1="343.53" x2="862" y2="343.53" stroke="#000" stroke-width="1.2"/><line x1="761.25" y1="74" x2="761.25" y2="59" stroke="#000" stroke-width="2"/><line x1="761.25" y1="449" x2="761.25" y2="464" stroke="#000" stroke-width="2"/><line x1="480" y1="355.25" x2="465" y2="355.25" stroke="#000" stroke-width="2"/><line x1="855" y1="355.25" x2="870" y2="355.25" stroke="#000" stroke-width="2"/><line x1="772.97" y1="74" x2="772.97" y2="67" stroke="#000" stroke-width="1.2"/><line x1="772.97" y1="449" x2="772.97" y2="456" stroke="#000" stroke-width="1.2"/><line x1="480" y1="366.97" x2="473" y2="366.97" stroke="#000" stroke-width="1.2"/><line x1="855" y1="366.97" x2="862" y2="366.97" stroke="#000" stroke-width="1.2"/><line x1="784.69" y1="74" x2="784.69" y2="67" stroke="#000" stroke-width="1.2"/><line x1="784.69" y1="449" x2="784.69" y2="456" stroke="#000" stroke-width="1.2"/><line x1="480" y1="378.69" x2="473" y2="378.69" stroke="#000" stroke-width="1.2"/><line x1="855" y1="378.69" x2="862" y2="378.69" stroke="#000" stroke-width="1.2"/><line x1="796.41" y1="74" x2="796.41" y2="67" stroke="#000" stroke-width="1.2"/><line x1="796.41" y1="449" x2="796.41" y2="456" stroke="#000" stroke-width="1.2"/><line x1="480" y1="390.41" x2="473" y2="390.41" stroke="#000" stroke-width="1.2"/><line x1="855" y1="390.41" x2="862" y2="390.41" stroke="#000" stroke-width="1.2"/><line x1="808.12" y1="74" x2="808.12" y2="67" stroke="#000" stroke-width="1.2"/><line x1="808.12" y1="449" x2="808.12" y2="456" stroke="#000" stroke-width="1.2"/><line x1="480" y1="402.12" x2="473" y2="402.12" stroke="#000" stroke-width="1.2"/><line x1="855" y1="402.12" x2="862" y2="402.12" stroke="#000" stroke-width="1.2"/><line x1="819.84" y1="74" x2="819.84" y2="67" stroke="#000" stroke-width="1.2"/><line x1="819.84" y1="449" x2="819.84" y2="456" stroke="#000" stroke-width="1.2"/><line x1="480" y1="413.84" x2="473" y2="413.84" stroke="#000" stroke-width="1.2"/><line x1="855" y1="413.84" x2="862" y2="413.84" stroke="#000" stroke-width="1.2"/><line x1="831.56" y1="74" x2="831.56" y2="67" stroke="#000" stroke-width="1.2"/><line x1="831.56" y1="449" x2="831.56" y2="456" stroke="#000" stroke-width="1.2"/><line x1="480" y1="425.56" x2="473" y2="425.56" stroke="#000" stroke-width="1.2"/><line x1="855" y1="425.56" x2="862" y2="425.56" stroke="#000" stroke-width="1.2"/><line x1="843.28" y1="74" x2="843.28" y2="67" stroke="#000" stroke-width="1.2"/><line x1="843.28" y1="449" x2="843.28" y2="456" stroke="#000" stroke-width="1.2"/><line x1="480" y1="437.28" x2="473" y2="437.28" stroke="#000" stroke-width="1.2"/><line x1="855" y1="437.28" x2="862" y2="437.28" stroke="#000" stroke-width="1.2"/><line x1="855.00" y1="74" x2="855.00" y2="59" stroke="#000" stroke-width="2"/><line x1="855.00" y1="449" x2="855.00" y2="464" stroke="#000" stroke-width="2"/><line x1="480" y1="449.00" x2="465" y2="449.00" stroke="#000" stroke-width="2"/><line x1="855" y1="449.00" x2="870" y2="449.00" stroke="#000" stroke-width="2"/><rect x="480" y="74" width="375" height="375" fill="none" stroke="#000" stroke-width="2"/>
<text x="60.5" y="25" font-size="35.5" text-anchor="start" textLength="146" lengthAdjust="spacingAndGlyphs" letter-spacing="1.5">Fukuoka,</text>
<text x="213.8" y="25" font-size="35.5" text-anchor="start" textLength="143.0" lengthAdjust="spacingAndGlyphs" letter-spacing="1.5">20190121</text>
<text x="368.6" y="25" font-size="35.5" text-anchor="start" textLength="103.2" lengthAdjust="spacingAndGlyphs" letter-spacing="1.5">[22:20,</text>
<text x="479.0" y="25" font-size="35.5" text-anchor="start" textLength="105.9" lengthAdjust="spacingAndGlyphs" letter-spacing="1.5">el=0.0]</text>
<text x="59.1" y="58.7" font-size="30" text-anchor="start" textLength="59.0" lengthAdjust="spacingAndGlyphs" letter-spacing="1.5">SNR</text>
<text x="123.5" y="58.7" font-size="30" text-anchor="start" textLength="57.2" lengthAdjust="spacingAndGlyphs" letter-spacing="1.5">[dB]</text>
<text x="481.2" y="58.7" font-size="30" text-anchor="start" textLength="110.8" lengthAdjust="spacingAndGlyphs" letter-spacing="1.5">Doppler</text>
<text x="598.8" y="58.7" font-size="30" text-anchor="start" textLength="112.8" lengthAdjust="spacingAndGlyphs" letter-spacing="1.5">Velocity</text>
<text x="717.0" y="58.7" font-size="30" text-anchor="start" textLength="74.5" lengthAdjust="spacingAndGlyphs" letter-spacing="1.5">[m/s]</text>
<g transform="translate(31.3,84.50) scale(0.92,1)"><text x="0" y="0" font-size="31" text-anchor="end">8</text></g>
<g transform="translate(31.3,178.25) scale(0.92,1)"><text x="0" y="0" font-size="31" text-anchor="end">4</text></g>
<g transform="translate(31.3,272.00) scale(0.92,1)"><text x="0" y="0" font-size="31" text-anchor="end">0</text></g>
<g transform="translate(31.3,365.75) scale(0.92,1)"><text x="0" y="0" font-size="31" text-anchor="end">−4</text></g>
<g transform="translate(31.3,459.50) scale(0.92,1)"><text x="0" y="0" font-size="31" text-anchor="end">−8</text></g>
<g transform="translate(59.00,500.5) scale(0.92,1)"><text x="0" y="0" font-size="31" text-anchor="middle">−8</text></g>
<g transform="translate(152.75,500.5) scale(0.92,1)"><text x="0" y="0" font-size="31" text-anchor="middle">−4</text></g>
<g transform="translate(246.50,500.5) scale(0.92,1)"><text x="0" y="0" font-size="31" text-anchor="middle">0</text></g>
<g transform="translate(340.25,500.5) scale(0.92,1)"><text x="0" y="0" font-size="31" text-anchor="middle">4</text></g>
<g transform="translate(434.00,500.5) scale(0.92,1)"><text x="0" y="0" font-size="31" text-anchor="middle">8</text></g>
<g transform="translate(480.00,500.5) scale(0.92,1)"><text x="0" y="0" font-size="31" text-anchor="middle">−8</text></g>
<g transform="translate(573.75,500.5) scale(0.92,1)"><text x="0" y="0" font-size="31" text-anchor="middle">−4</text></g>
<g transform="translate(667.50,500.5) scale(0.92,1)"><text x="0" y="0" font-size="31" text-anchor="middle">0</text></g>
<g transform="translate(761.25,500.5) scale(0.92,1)"><text x="0" y="0" font-size="31" text-anchor="middle">4</text></g>
<g transform="translate(855.00,500.5) scale(0.92,1)"><text x="0" y="0" font-size="31" text-anchor="middle">8</text></g>
<rect x="58.50" y="509.2" width="9.12" height="10.400000000000034" fill="rgb(0,0,0)" stroke="#000" stroke-width="1.3"/><rect x="67.62" y="509.2" width="9.12" height="10.400000000000034" fill="rgb(0,0,0)" stroke="#000" stroke-width="1.3"/><rect x="76.75" y="509.2" width="9.12" height="10.400000000000034" fill="rgb(0,0,0)" stroke="#000" stroke-width="1.3"/><rect x="85.88" y="509.2" width="9.12" height="10.400000000000034" fill="rgb(0,0,0)" stroke="#000" stroke-width="1.3"/><rect x="95.00" y="509.2" width="9.12" height="10.400000000000034" fill="rgb(0,0,0)" stroke="#000" stroke-width="1.3"/><rect x="104.12" y="509.2" width="9.12" height="10.400000000000034" fill="rgb(0,0,0)" stroke="#000" stroke-width="1.3"/><rect x="113.25" y="509.2" width="9.12" height="10.400000000000034" fill="rgb(0,0,0)" stroke="#000" stroke-width="1.3"/><rect x="122.38" y="509.2" width="9.12" height="10.400000000000034" fill="rgb(0,0,0)" stroke="#000" stroke-width="1.3"/><rect x="131.50" y="509.2" width="9.12" height="10.400000000000034" fill="rgb(0,0,0)" stroke="#000" stroke-width="1.3"/><rect x="140.62" y="509.2" width="9.12" height="10.400000000000034" fill="rgb(0,0,0)" stroke="#000" stroke-width="1.3"/><rect x="149.75" y="509.2" width="9.12" height="10.400000000000034" fill="rgb(10,10,10)" stroke="#000" stroke-width="1.3"/><rect x="158.88" y="509.2" width="9.12" height="10.400000000000034" fill="rgb(20,20,20)" stroke="#000" stroke-width="1.3"/><rect x="168.00" y="509.2" width="9.12" height="10.400000000000034" fill="rgb(29,29,29)" stroke="#000" stroke-width="1.3"/><rect x="177.12" y="509.2" width="9.12" height="10.400000000000034" fill="rgb(39,39,39)" stroke="#000" stroke-width="1.3"/><rect x="186.25" y="509.2" width="9.12" height="10.400000000000034" fill="rgb(49,49,49)" stroke="#000" stroke-width="1.3"/><rect x="195.38" y="509.2" width="9.12" height="10.400000000000034" fill="rgb(59,59,59)" stroke="#000" stroke-width="1.3"/><rect x="204.50" y="509.2" width="9.12" height="10.400000000000034" fill="rgb(69,69,69)" stroke="#000" stroke-width="1.3"/><rect x="213.62" y="509.2" width="9.12" height="10.400000000000034" fill="rgb(78,78,78)" stroke="#000" stroke-width="1.3"/><rect x="222.75" y="509.2" width="9.12" height="10.400000000000034" fill="rgb(88,88,88)" stroke="#000" stroke-width="1.3"/><rect x="231.88" y="509.2" width="9.12" height="10.400000000000034" fill="rgb(98,98,98)" stroke="#000" stroke-width="1.3"/><rect x="241.00" y="509.2" width="9.12" height="10.400000000000034" fill="rgb(108,108,108)" stroke="#000" stroke-width="1.3"/><rect x="250.12" y="509.2" width="9.12" height="10.400000000000034" fill="rgb(118,118,118)" stroke="#000" stroke-width="1.3"/><rect x="259.25" y="509.2" width="9.12" height="10.400000000000034" fill="rgb(128,128,128)" stroke="#000" stroke-width="1.3"/><rect x="268.38" y="509.2" width="9.12" height="10.400000000000034" fill="rgb(137,137,137)" stroke="#000" stroke-width="1.3"/><rect x="277.50" y="509.2" width="9.12" height="10.400000000000034" fill="rgb(147,147,147)" stroke="#000" stroke-width="1.3"/><rect x="286.62" y="509.2" width="9.12" height="10.400000000000034" fill="rgb(157,157,157)" stroke="#000" stroke-width="1.3"/><rect x="295.75" y="509.2" width="9.12" height="10.400000000000034" fill="rgb(167,167,167)" stroke="#000" stroke-width="1.3"/><rect x="304.88" y="509.2" width="9.12" height="10.400000000000034" fill="rgb(177,177,177)" stroke="#000" stroke-width="1.3"/><rect x="314.00" y="509.2" width="9.12" height="10.400000000000034" fill="rgb(186,186,186)" stroke="#000" stroke-width="1.3"/><rect x="323.12" y="509.2" width="9.12" height="10.400000000000034" fill="rgb(196,196,196)" stroke="#000" stroke-width="1.3"/><rect x="332.25" y="509.2" width="9.12" height="10.400000000000034" fill="rgb(206,206,206)" stroke="#000" stroke-width="1.3"/><rect x="341.38" y="509.2" width="9.12" height="10.400000000000034" fill="rgb(216,216,216)" stroke="#000" stroke-width="1.3"/><rect x="350.50" y="509.2" width="9.12" height="10.400000000000034" fill="rgb(226,226,226)" stroke="#000" stroke-width="1.3"/><rect x="359.62" y="509.2" width="9.12" height="10.400000000000034" fill="rgb(235,235,235)" stroke="#000" stroke-width="1.3"/><rect x="368.75" y="509.2" width="9.12" height="10.400000000000034" fill="rgb(245,245,245)" stroke="#000" stroke-width="1.3"/><rect x="377.88" y="509.2" width="9.12" height="10.400000000000034" fill="rgb(255,255,255)" stroke="#000" stroke-width="1.3"/><path d="M387 509.2 L395.5 514.4 L387 519.6 Z" fill="#ffff00" stroke="#000" stroke-width="1.6" stroke-linejoin="miter"/><path d="M58.5 519.6 L58.5 509.2 L387 509.2 L395.5 514.4 L387 519.6 Z" fill="none" stroke="#000" stroke-width="2"/><line x1="58.50" y1="519.6" x2="58.50" y2="533.6" stroke="#000" stroke-width="2"/><line x1="67.62" y1="519.6" x2="67.62" y2="525.6" stroke="#000" stroke-width="1.6"/><line x1="76.75" y1="519.6" x2="76.75" y2="525.6" stroke="#000" stroke-width="1.6"/><line x1="85.88" y1="519.6" x2="85.88" y2="525.6" stroke="#000" stroke-width="1.6"/><line x1="95.00" y1="519.6" x2="95.00" y2="525.6" stroke="#000" stroke-width="1.6"/><line x1="104.12" y1="519.6" x2="104.12" y2="533.6" stroke="#000" stroke-width="2"/><line x1="113.25" y1="519.6" x2="113.25" y2="525.6" stroke="#000" stroke-width="1.6"/><line x1="122.38" y1="519.6" x2="122.38" y2="525.6" stroke="#000" stroke-width="1.6"/><line x1="131.50" y1="519.6" x2="131.50" y2="525.6" stroke="#000" stroke-width="1.6"/><line x1="140.62" y1="519.6" x2="140.62" y2="525.6" stroke="#000" stroke-width="1.6"/><line x1="149.75" y1="519.6" x2="149.75" y2="533.6" stroke="#000" stroke-width="2"/><line x1="158.88" y1="519.6" x2="158.88" y2="525.6" stroke="#000" stroke-width="1.6"/><line x1="168.00" y1="519.6" x2="168.00" y2="525.6" stroke="#000" stroke-width="1.6"/><line x1="177.12" y1="519.6" x2="177.12" y2="525.6" stroke="#000" stroke-width="1.6"/><line x1="186.25" y1="519.6" x2="186.25" y2="525.6" stroke="#000" stroke-width="1.6"/><line x1="195.38" y1="519.6" x2="195.38" y2="533.6" stroke="#000" stroke-width="2"/><line x1="204.50" y1="519.6" x2="204.50" y2="525.6" stroke="#000" stroke-width="1.6"/><line x1="213.62" y1="519.6" x2="213.62" y2="525.6" stroke="#000" stroke-width="1.6"/><line x1="222.75" y1="519.6" x2="222.75" y2="525.6" stroke="#000" stroke-width="1.6"/><line x1="231.88" y1="519.6" x2="231.88" y2="525.6" stroke="#000" stroke-width="1.6"/><line x1="241.00" y1="519.6" x2="241.00" y2="533.6" stroke="#000" stroke-width="2"/><line x1="250.12" y1="519.6" x2="250.12" y2="525.6" stroke="#000" stroke-width="1.6"/><line x1="259.25" y1="519.6" x2="259.25" y2="525.6" stroke="#000" stroke-width="1.6"/><line x1="268.38" y1="519.6" x2="268.38" y2="525.6" stroke="#000" stroke-width="1.6"/><line x1="277.50" y1="519.6" x2="277.50" y2="525.6" stroke="#000" stroke-width="1.6"/><line x1="286.62" y1="519.6" x2="286.62" y2="533.6" stroke="#000" stroke-width="2"/><line x1="295.75" y1="519.6" x2="295.75" y2="525.6" stroke="#000" stroke-width="1.6"/><line x1="304.88" y1="519.6" x2="304.88" y2="525.6" stroke="#000" stroke-width="1.6"/><line x1="314.00" y1="519.6" x2="314.00" y2="525.6" stroke="#000" stroke-width="1.6"/><line x1="323.12" y1="519.6" x2="323.12" y2="525.6" stroke="#000" stroke-width="1.6"/><line x1="332.25" y1="519.6" x2="332.25" y2="533.6" stroke="#000" stroke-width="2"/><line x1="341.38" y1="519.6" x2="341.38" y2="525.6" stroke="#000" stroke-width="1.6"/><line x1="350.50" y1="519.6" x2="350.50" y2="525.6" stroke="#000" stroke-width="1.6"/><line x1="359.62" y1="519.6" x2="359.62" y2="525.6" stroke="#000" stroke-width="1.6"/><line x1="368.75" y1="519.6" x2="368.75" y2="525.6" stroke="#000" stroke-width="1.6"/><line x1="377.88" y1="519.6" x2="377.88" y2="533.6" stroke="#000" stroke-width="2"/><line x1="387.00" y1="519.6" x2="387.00" y2="525.6" stroke="#000" stroke-width="1.6"/>
<g transform="translate(59.00,570.5) scale(0.94,1)"><text x="0" y="0" font-size="31" text-anchor="middle">0</text></g>
<g transform="translate(104.62,570.5) scale(0.94,1)"><text x="0" y="0" font-size="31" text-anchor="middle">2.5</text></g>
<g transform="translate(150.25,570.5) scale(0.94,1)"><text x="0" y="0" font-size="31" text-anchor="middle">5</text></g>
<g transform="translate(195.88,570.5) scale(0.94,1)"><text x="0" y="0" font-size="31" text-anchor="middle">7.5</text></g>
<g transform="translate(241.50,570.5) scale(0.94,1)"><text x="0" y="0" font-size="31" text-anchor="middle">10</text></g>
<g transform="translate(287.12,570.5) scale(0.94,1)"><text x="0" y="0" font-size="31" text-anchor="middle">12.5</text></g>
<g transform="translate(332.75,570.5) scale(0.94,1)"><text x="0" y="0" font-size="31" text-anchor="middle">15</text></g>
<g transform="translate(378.38,570.5) scale(0.94,1)"><text x="0" y="0" font-size="31" text-anchor="middle">17.5</text></g>
<rect x="480.50" y="509.2" width="8.62" height="10.400000000000034" fill="#d8ffff" stroke="#000" stroke-width="1.3"/><rect x="489.12" y="509.2" width="8.62" height="10.400000000000034" fill="#b8ffff" stroke="#000" stroke-width="1.3"/><rect x="497.74" y="509.2" width="8.62" height="10.400000000000034" fill="#a0ffff" stroke="#000" stroke-width="1.3"/><rect x="506.36" y="509.2" width="8.62" height="10.400000000000034" fill="#88ffff" stroke="#000" stroke-width="1.3"/><rect x="514.97" y="509.2" width="8.62" height="10.400000000000034" fill="#70ffff" stroke="#000" stroke-width="1.3"/><rect x="523.59" y="509.2" width="8.62" height="10.400000000000034" fill="#55eeff" stroke="#000" stroke-width="1.3"/><rect x="532.21" y="509.2" width="8.62" height="10.400000000000034" fill="#35ccff" stroke="#000" stroke-width="1.3"/><rect x="540.83" y="509.2" width="8.62" height="10.400000000000034" fill="#2ab0ff" stroke="#000" stroke-width="1.3"/><rect x="549.45" y="509.2" width="8.62" height="10.400000000000034" fill="#1a90ff" stroke="#000" stroke-width="1.3"/><rect x="558.07" y="509.2" width="8.62" height="10.400000000000034" fill="#0a80ff" stroke="#000" stroke-width="1.3"/><rect x="566.68" y="509.2" width="8.62" height="10.400000000000034" fill="#0870ff" stroke="#000" stroke-width="1.3"/><rect x="575.30" y="509.2" width="8.62" height="10.400000000000034" fill="#0860ff" stroke="#000" stroke-width="1.3"/><rect x="583.92" y="509.2" width="8.62" height="10.400000000000034" fill="#0030ff" stroke="#000" stroke-width="1.3"/><rect x="592.54" y="509.2" width="8.62" height="10.400000000000034" fill="#0010ff" stroke="#000" stroke-width="1.3"/><rect x="601.16" y="509.2" width="8.62" height="10.400000000000034" fill="#0000e8" stroke="#000" stroke-width="1.3"/><rect x="609.78" y="509.2" width="8.62" height="10.400000000000034" fill="#0000c0" stroke="#000" stroke-width="1.3"/><rect x="618.39" y="509.2" width="8.62" height="10.400000000000034" fill="#0000a0" stroke="#000" stroke-width="1.3"/><rect x="627.01" y="509.2" width="8.62" height="10.400000000000034" fill="#000080" stroke="#000" stroke-width="1.3"/><rect x="635.63" y="509.2" width="8.62" height="10.400000000000034" fill="#000050" stroke="#000" stroke-width="1.3"/><rect x="644.25" y="509.2" width="8.62" height="10.400000000000034" fill="#e80000" stroke="#000" stroke-width="1.3"/><rect x="652.87" y="509.2" width="8.62" height="10.400000000000034" fill="#ff1000" stroke="#000" stroke-width="1.3"/><rect x="661.49" y="509.2" width="8.62" height="10.400000000000034" fill="#ff3000" stroke="#000" stroke-width="1.3"/><rect x="670.11" y="509.2" width="8.62" height="10.400000000000034" fill="#ff4000" stroke="#000" stroke-width="1.3"/><rect x="678.72" y="509.2" width="8.62" height="10.400000000000034" fill="#ff5800" stroke="#000" stroke-width="1.3"/><rect x="687.34" y="509.2" width="8.62" height="10.400000000000034" fill="#ff7000" stroke="#000" stroke-width="1.3"/><rect x="695.96" y="509.2" width="8.62" height="10.400000000000034" fill="#ff8800" stroke="#000" stroke-width="1.3"/><rect x="704.58" y="509.2" width="8.62" height="10.400000000000034" fill="#ffa010" stroke="#000" stroke-width="1.3"/><rect x="713.20" y="509.2" width="8.62" height="10.400000000000034" fill="#ffb828" stroke="#000" stroke-width="1.3"/><rect x="721.82" y="509.2" width="8.62" height="10.400000000000034" fill="#ffbb30" stroke="#000" stroke-width="1.3"/><rect x="730.43" y="509.2" width="8.62" height="10.400000000000034" fill="#ffd040" stroke="#000" stroke-width="1.3"/><rect x="739.05" y="509.2" width="8.62" height="10.400000000000034" fill="#ffff50" stroke="#000" stroke-width="1.3"/><rect x="747.67" y="509.2" width="8.62" height="10.400000000000034" fill="#ffff60" stroke="#000" stroke-width="1.3"/><rect x="756.29" y="509.2" width="8.62" height="10.400000000000034" fill="#ffff70" stroke="#000" stroke-width="1.3"/><rect x="764.91" y="509.2" width="8.62" height="10.400000000000034" fill="#ffff90" stroke="#000" stroke-width="1.3"/><rect x="773.53" y="509.2" width="8.62" height="10.400000000000034" fill="#ffffa8" stroke="#000" stroke-width="1.3"/><rect x="782.14" y="509.2" width="8.62" height="10.400000000000034" fill="#ffffc0" stroke="#000" stroke-width="1.3"/><rect x="790.76" y="509.2" width="8.62" height="10.400000000000034" fill="#ffffd8" stroke="#000" stroke-width="1.3"/><rect x="799.38" y="509.2" width="8.62" height="10.400000000000034" fill="#ffffe8" stroke="#000" stroke-width="1.3"/><path d="M480.5 509.2 L471.5 514.4 L480.5 519.6 Z" fill="#e8ffff" stroke="#000" stroke-width="1.6"/><path d="M808 509.2 L817 514.4 L808 519.6 Z" fill="#fffff0" stroke="#000" stroke-width="1.6"/><path d="M480.5 509.2 L808 509.2 M480.5 519.6 L808 519.6" fill="none" stroke="#000" stroke-width="2"/><line x1="480.50" y1="519.6" x2="480.50" y2="525.6" stroke="#000" stroke-width="1.6"/><line x1="489.12" y1="519.6" x2="489.12" y2="525.6" stroke="#000" stroke-width="1.6"/><line x1="497.74" y1="519.6" x2="497.74" y2="525.6" stroke="#000" stroke-width="1.6"/><line x1="506.36" y1="519.6" x2="506.36" y2="532.6" stroke="#000" stroke-width="2"/><line x1="514.97" y1="519.6" x2="514.97" y2="525.6" stroke="#000" stroke-width="1.6"/><line x1="523.59" y1="519.6" x2="523.59" y2="525.6" stroke="#000" stroke-width="1.6"/><line x1="532.21" y1="519.6" x2="532.21" y2="525.6" stroke="#000" stroke-width="1.6"/><line x1="540.83" y1="519.6" x2="540.83" y2="525.6" stroke="#000" stroke-width="1.6"/><line x1="549.45" y1="519.6" x2="549.45" y2="525.6" stroke="#000" stroke-width="1.6"/><line x1="558.07" y1="519.6" x2="558.07" y2="525.6" stroke="#000" stroke-width="1.6"/><line x1="566.68" y1="519.6" x2="566.68" y2="525.6" stroke="#000" stroke-width="1.6"/><line x1="575.30" y1="519.6" x2="575.30" y2="532.6" stroke="#000" stroke-width="2"/><line x1="583.92" y1="519.6" x2="583.92" y2="525.6" stroke="#000" stroke-width="1.6"/><line x1="592.54" y1="519.6" x2="592.54" y2="525.6" stroke="#000" stroke-width="1.6"/><line x1="601.16" y1="519.6" x2="601.16" y2="525.6" stroke="#000" stroke-width="1.6"/><line x1="609.78" y1="519.6" x2="609.78" y2="525.6" stroke="#000" stroke-width="1.6"/><line x1="618.39" y1="519.6" x2="618.39" y2="525.6" stroke="#000" stroke-width="1.6"/><line x1="627.01" y1="519.6" x2="627.01" y2="525.6" stroke="#000" stroke-width="1.6"/><line x1="635.63" y1="519.6" x2="635.63" y2="525.6" stroke="#000" stroke-width="1.6"/><line x1="644.25" y1="519.6" x2="644.25" y2="532.6" stroke="#000" stroke-width="2"/><line x1="652.87" y1="519.6" x2="652.87" y2="525.6" stroke="#000" stroke-width="1.6"/><line x1="661.49" y1="519.6" x2="661.49" y2="525.6" stroke="#000" stroke-width="1.6"/><line x1="670.11" y1="519.6" x2="670.11" y2="525.6" stroke="#000" stroke-width="1.6"/><line x1="678.72" y1="519.6" x2="678.72" y2="525.6" stroke="#000" stroke-width="1.6"/><line x1="687.34" y1="519.6" x2="687.34" y2="525.6" stroke="#000" stroke-width="1.6"/><line x1="695.96" y1="519.6" x2="695.96" y2="525.6" stroke="#000" stroke-width="1.6"/><line x1="704.58" y1="519.6" x2="704.58" y2="525.6" stroke="#000" stroke-width="1.6"/><line x1="713.20" y1="519.6" x2="713.20" y2="532.6" stroke="#000" stroke-width="2"/><line x1="721.82" y1="519.6" x2="721.82" y2="525.6" stroke="#000" stroke-width="1.6"/><line x1="730.43" y1="519.6" x2="730.43" y2="525.6" stroke="#000" stroke-width="1.6"/><line x1="739.05" y1="519.6" x2="739.05" y2="525.6" stroke="#000" stroke-width="1.6"/><line x1="747.67" y1="519.6" x2="747.67" y2="525.6" stroke="#000" stroke-width="1.6"/><line x1="756.29" y1="519.6" x2="756.29" y2="525.6" stroke="#000" stroke-width="1.6"/><line x1="764.91" y1="519.6" x2="764.91" y2="525.6" stroke="#000" stroke-width="1.6"/><line x1="773.53" y1="519.6" x2="773.53" y2="525.6" stroke="#000" stroke-width="1.6"/><line x1="782.14" y1="519.6" x2="782.14" y2="532.6" stroke="#000" stroke-width="2"/><line x1="790.76" y1="519.6" x2="790.76" y2="525.6" stroke="#000" stroke-width="1.6"/><line x1="799.38" y1="519.6" x2="799.38" y2="525.6" stroke="#000" stroke-width="1.6"/><line x1="808.00" y1="519.6" x2="808.00" y2="525.6" stroke="#000" stroke-width="1.6"/>
<g transform="translate(506.36,570.5) scale(0.94,1)"><text x="0" y="0" font-size="31" text-anchor="middle">−8</text></g>
<g transform="translate(575.30,570.5) scale(0.94,1)"><text x="0" y="0" font-size="31" text-anchor="middle">−4</text></g>
<g transform="translate(644.25,570.5) scale(0.94,1)"><text x="0" y="0" font-size="31" text-anchor="middle">0</text></g>
<g transform="translate(713.20,570.5) scale(0.94,1)"><text x="0" y="0" font-size="31" text-anchor="middle">4</text></g>
<g transform="translate(782.14,570.5) scale(0.94,1)"><text x="0" y="0" font-size="31" text-anchor="middle">8</text></g>
</svg></body></html>
